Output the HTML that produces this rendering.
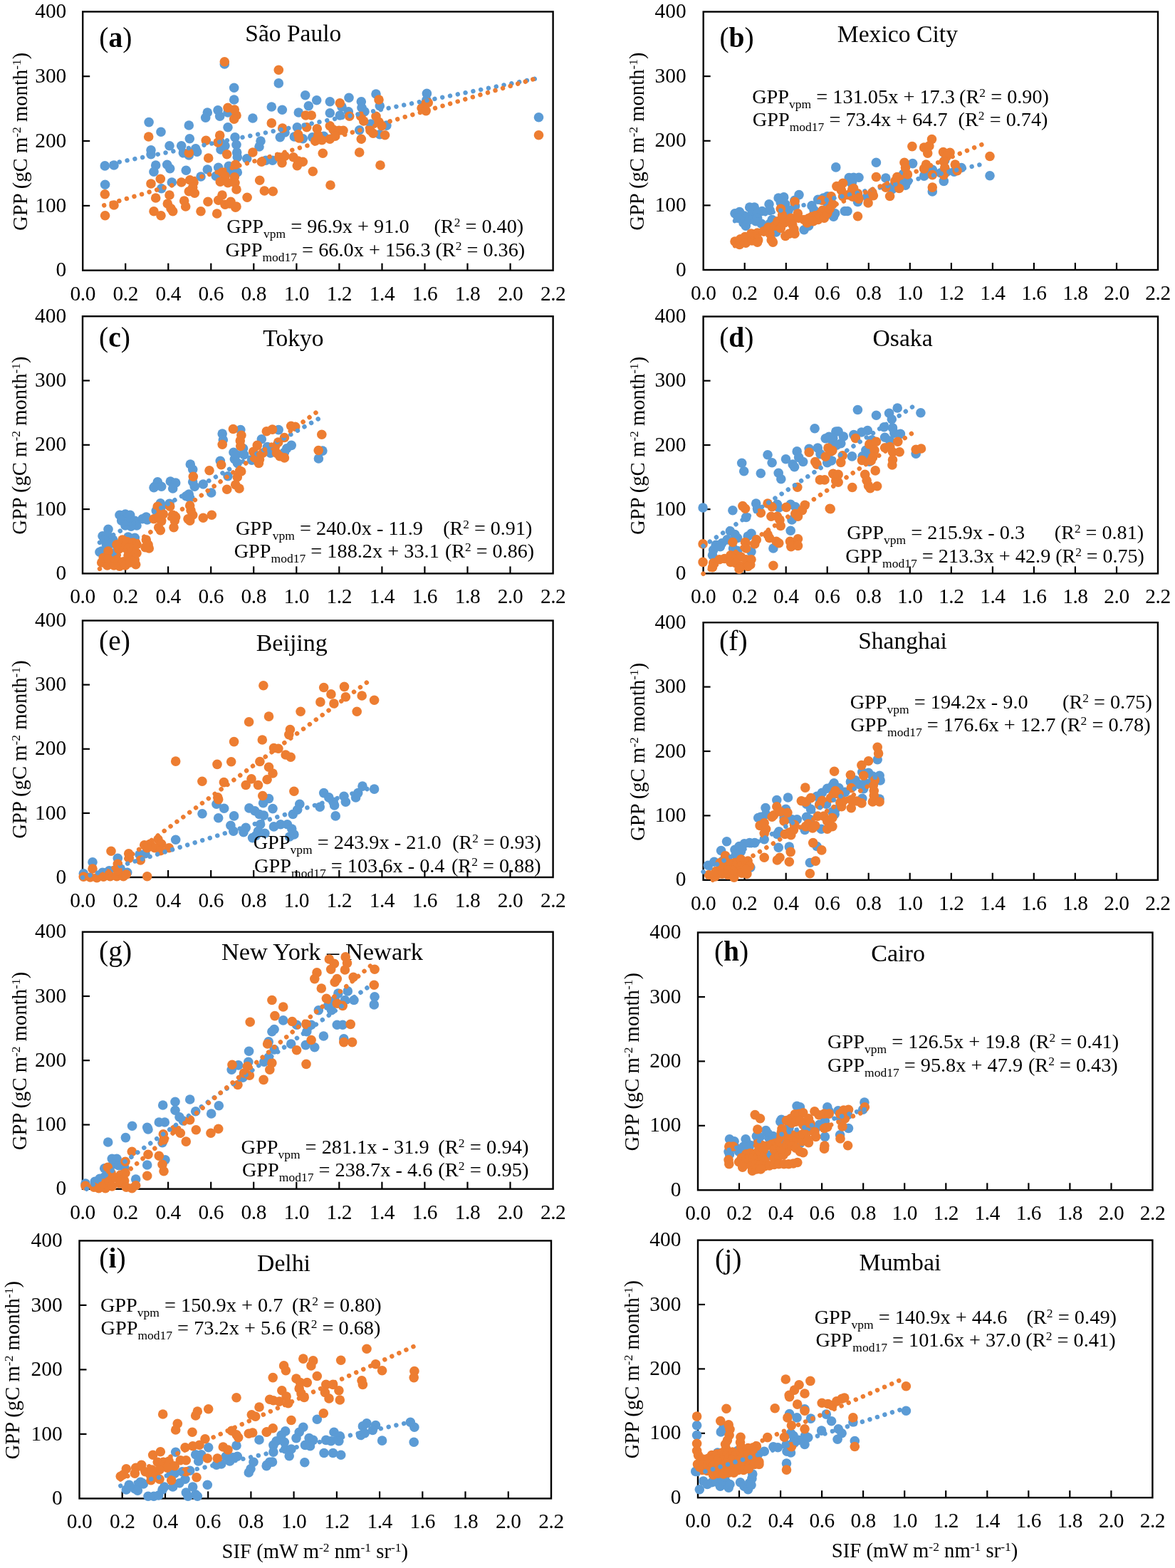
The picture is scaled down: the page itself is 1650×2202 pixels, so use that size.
<!DOCTYPE html><html><head><meta charset="utf-8"><title>GPP vs SIF</title>
<style>html,body{margin:0;padding:0;background:#fff}svg{display:block}text{font-family:"Liberation Serif",serif;fill:#000}.t{font-size:29.4px}.at{font-size:28.7px}.ti{font-size:34px}.lb{font-size:39.5px}.eq{font-size:28.3px}.ax{stroke:#000;stroke-width:2.4;fill:none}.tk{stroke:#000;stroke-width:2.2}.b{fill:#5B9BD5}.o{fill:#ED7D31}.tb{stroke:#5B9BD5;stroke-width:6.5;stroke-linecap:round;stroke-dasharray:0.01 11;fill:none}.to{stroke:#ED7D31;stroke-width:6.5;stroke-linecap:round;stroke-dasharray:0.01 11;fill:none}</style></head><body>
<svg width="1650" height="2202" viewBox="0 0 1650 2202">
<rect width="1650" height="2202" fill="#fff"/>
<g id="pa">
<text class="t" text-anchor="end" x="93.3" y="388.3">0</text>
<text class="t" text-anchor="end" x="93.3" y="297.5">100</text>
<line class="tk" x1="116.2" y1="288.9" x2="126.2" y2="288.9"/>
<text class="t" text-anchor="end" x="93.3" y="206.6">200</text>
<line class="tk" x1="116.2" y1="198" x2="126.2" y2="198"/>
<text class="t" text-anchor="end" x="93.3" y="115.8">300</text>
<line class="tk" x1="116.2" y1="107.2" x2="126.2" y2="107.2"/>
<text class="t" text-anchor="end" x="93.3" y="25">400</text>
<text class="t" letter-spacing="-0.45" text-anchor="middle" x="116.2" y="421.5">0.0</text>
<text class="t" letter-spacing="-0.45" text-anchor="middle" x="176.2" y="421.5">0.2</text>
<line class="tk" x1="176.2" y1="379.7" x2="176.2" y2="369.7"/>
<text class="t" letter-spacing="-0.45" text-anchor="middle" x="236.3" y="421.5">0.4</text>
<line class="tk" x1="236.3" y1="379.7" x2="236.3" y2="369.7"/>
<text class="t" letter-spacing="-0.45" text-anchor="middle" x="296.3" y="421.5">0.6</text>
<line class="tk" x1="296.3" y1="379.7" x2="296.3" y2="369.7"/>
<text class="t" letter-spacing="-0.45" text-anchor="middle" x="356.3" y="421.5">0.8</text>
<line class="tk" x1="356.3" y1="379.7" x2="356.3" y2="369.7"/>
<text class="t" letter-spacing="-0.45" text-anchor="middle" x="416.4" y="421.5">1.0</text>
<line class="tk" x1="416.4" y1="379.7" x2="416.4" y2="369.7"/>
<text class="t" letter-spacing="-0.45" text-anchor="middle" x="476.4" y="421.5">1.2</text>
<line class="tk" x1="476.4" y1="379.7" x2="476.4" y2="369.7"/>
<text class="t" letter-spacing="-0.45" text-anchor="middle" x="536.5" y="421.5">1.4</text>
<line class="tk" x1="536.5" y1="379.7" x2="536.5" y2="369.7"/>
<text class="t" letter-spacing="-0.45" text-anchor="middle" x="596.5" y="421.5">1.6</text>
<line class="tk" x1="596.5" y1="379.7" x2="596.5" y2="369.7"/>
<text class="t" letter-spacing="-0.45" text-anchor="middle" x="656.5" y="421.5">1.8</text>
<line class="tk" x1="656.5" y1="379.7" x2="656.5" y2="369.7"/>
<text class="t" letter-spacing="-0.45" text-anchor="middle" x="716.6" y="421.5">2.0</text>
<line class="tk" x1="716.6" y1="379.7" x2="716.6" y2="369.7"/>
<text class="t" letter-spacing="-0.45" text-anchor="middle" x="776.6" y="421.5">2.2</text>
<rect class="ax" x="116.2" y="16.4" width="660.4" height="363.3"/>
<text class="at" text-anchor="middle" transform="translate(38.2 198.8) rotate(-90)">GPP (gC m<tspan dy="-9" font-size="17.5">-2</tspan><tspan dy="9"> month</tspan><tspan dy="-9" font-size="17.5">-1</tspan><tspan dy="9">)</tspan></text>
<text class="lb" x="139.3" y="65.8">(<tspan font-weight="bold">a</tspan>)</text>
<g class="b"><circle cx="147.3" cy="232.9" r="6.8"/><circle cx="160" cy="232" r="6.8"/><circle cx="147.6" cy="259.3" r="6.8"/><circle cx="209.1" cy="171.6" r="6.8"/><circle cx="226" cy="185.3" r="6.8"/><circle cx="265.3" cy="176" r="6.8"/><circle cx="266.3" cy="194.7" r="6.8"/><circle cx="212" cy="210.7" r="6.8"/><circle cx="212" cy="216.7" r="6.8"/><circle cx="238" cy="204.7" r="6.8"/><circle cx="291.3" cy="158" r="6.8"/><circle cx="288.7" cy="165.3" r="6.8"/><circle cx="306" cy="154.7" r="6.8"/><circle cx="308.7" cy="163.3" r="6.8"/><circle cx="320" cy="158" r="6.8"/><circle cx="320" cy="178.7" r="6.8"/><circle cx="328.7" cy="123.3" r="6.8"/><circle cx="328.7" cy="140" r="6.8"/><circle cx="330" cy="192.7" r="6.8"/><circle cx="332" cy="203.3" r="6.8"/><circle cx="332.7" cy="214" r="6.8"/><circle cx="333.3" cy="220.7" r="6.8"/><circle cx="309.3" cy="199.3" r="6.8"/><circle cx="310" cy="210" r="6.8"/><circle cx="316" cy="204.7" r="6.8"/><circle cx="254.7" cy="204.7" r="6.8"/><circle cx="257.3" cy="214.7" r="6.8"/><circle cx="265.3" cy="218" r="6.8"/><circle cx="274.7" cy="208.7" r="6.8"/><circle cx="276.7" cy="213.3" r="6.8"/><circle cx="218.7" cy="232" r="6.8"/><circle cx="216" cy="241.3" r="6.8"/><circle cx="234.7" cy="231.3" r="6.8"/><circle cx="238.7" cy="236.7" r="6.8"/><circle cx="261.3" cy="239.3" r="6.8"/><circle cx="291.3" cy="238" r="6.8"/><circle cx="282" cy="248" r="6.8"/><circle cx="306.7" cy="235.3" r="6.8"/><circle cx="303.3" cy="247.3" r="6.8"/><circle cx="321.3" cy="233.3" r="6.8"/><circle cx="320" cy="242" r="6.8"/><circle cx="332" cy="242" r="6.8"/><circle cx="241.3" cy="256" r="6.8"/><circle cx="226.7" cy="264.7" r="6.8"/><circle cx="315.3" cy="90" r="6.8"/><circle cx="354.9" cy="166" r="6.8"/><circle cx="381.3" cy="150" r="6.8"/><circle cx="396.3" cy="154.3" r="6.8"/><circle cx="391.3" cy="116.9" r="6.8"/><circle cx="428.7" cy="133.7" r="6.8"/><circle cx="444.7" cy="140.7" r="6.8"/><circle cx="433.3" cy="148.7" r="6.8"/><circle cx="419.3" cy="158" r="6.8"/><circle cx="463.3" cy="142.7" r="6.8"/><circle cx="490" cy="137.3" r="6.8"/><circle cx="507.3" cy="142.7" r="6.8"/><circle cx="508" cy="151.3" r="6.8"/><circle cx="528" cy="132" r="6.8"/><circle cx="533.3" cy="148.7" r="6.8"/><circle cx="463.3" cy="158.7" r="6.8"/><circle cx="477.3" cy="162" r="6.8"/><circle cx="489.3" cy="156.7" r="6.8"/><circle cx="480" cy="150" r="6.8"/><circle cx="512" cy="156.7" r="6.8"/><circle cx="366" cy="198" r="6.8"/><circle cx="364" cy="206" r="6.8"/><circle cx="346.7" cy="222.7" r="6.8"/><circle cx="373.3" cy="225.3" r="6.8"/><circle cx="382.7" cy="225.3" r="6.8"/><circle cx="393.3" cy="192.7" r="6.8"/><circle cx="400" cy="186" r="6.8"/><circle cx="413.3" cy="192" r="6.8"/><circle cx="417.3" cy="178.7" r="6.8"/><circle cx="425.3" cy="194.7" r="6.8"/><circle cx="438.7" cy="192.7" r="6.8"/><circle cx="454.7" cy="191.3" r="6.8"/><circle cx="470.7" cy="186" r="6.8"/><circle cx="504.7" cy="182.7" r="6.8"/><circle cx="520.7" cy="174" r="6.8"/><circle cx="533.3" cy="188.7" r="6.8"/><circle cx="333.3" cy="242" r="6.8"/><circle cx="599.4" cy="131.4" r="6.8"/><circle cx="598.9" cy="140.5" r="6.8"/><circle cx="756.5" cy="164.7" r="6.8"/><circle cx="542.9" cy="176.1" r="6.8"/></g><g class="o"><circle cx="315.3" cy="86.7" r="6.8"/><circle cx="208.7" cy="192" r="6.8"/><circle cx="289.3" cy="197.3" r="6.8"/><circle cx="308.7" cy="190" r="6.8"/><circle cx="306" cy="200" r="6.8"/><circle cx="265.3" cy="214.7" r="6.8"/><circle cx="292.7" cy="222" r="6.8"/><circle cx="318.7" cy="216.7" r="6.8"/><circle cx="320" cy="151.3" r="6.8"/><circle cx="329.3" cy="154" r="6.8"/><circle cx="332" cy="162" r="6.8"/><circle cx="328.7" cy="167.3" r="6.8"/><circle cx="330.7" cy="231.3" r="6.8"/><circle cx="329.3" cy="248.7" r="6.8"/><circle cx="312" cy="242" r="6.8"/><circle cx="316" cy="247.3" r="6.8"/><circle cx="309.3" cy="255.3" r="6.8"/><circle cx="320" cy="256.7" r="6.8"/><circle cx="330" cy="256.7" r="6.8"/><circle cx="332" cy="266" r="6.8"/><circle cx="225.3" cy="251.3" r="6.8"/><circle cx="212" cy="258" r="6.8"/><circle cx="254.7" cy="256" r="6.8"/><circle cx="266.7" cy="252.7" r="6.8"/><circle cx="272" cy="256" r="6.8"/><circle cx="270.7" cy="263.3" r="6.8"/><circle cx="265.3" cy="268.7" r="6.8"/><circle cx="273.3" cy="271.3" r="6.8"/><circle cx="238" cy="274" r="6.8"/><circle cx="218.7" cy="278" r="6.8"/><circle cx="235.3" cy="286" r="6.8"/><circle cx="240" cy="292.7" r="6.8"/><circle cx="242.7" cy="296.7" r="6.8"/><circle cx="258.7" cy="282" r="6.8"/><circle cx="260.7" cy="290" r="6.8"/><circle cx="292" cy="283.3" r="6.8"/><circle cx="312" cy="274" r="6.8"/><circle cx="306.7" cy="281.3" r="6.8"/><circle cx="316" cy="287.3" r="6.8"/><circle cx="322.7" cy="286" r="6.8"/><circle cx="330.7" cy="291.3" r="6.8"/><circle cx="282" cy="296.7" r="6.8"/><circle cx="216" cy="296.7" r="6.8"/><circle cx="226" cy="302.7" r="6.8"/><circle cx="304.7" cy="300" r="6.8"/><circle cx="147.3" cy="272.7" r="6.8"/><circle cx="160" cy="288" r="6.8"/><circle cx="147.6" cy="302.7" r="6.8"/><circle cx="391.3" cy="98.3" r="6.8"/><circle cx="477.3" cy="144.7" r="6.8"/><circle cx="532" cy="140" r="6.8"/><circle cx="429.3" cy="162" r="6.8"/><circle cx="437.3" cy="162" r="6.8"/><circle cx="381.3" cy="172.9" r="6.8"/><circle cx="396.7" cy="180" r="6.8"/><circle cx="430.7" cy="178.7" r="6.8"/><circle cx="418.7" cy="188.7" r="6.8"/><circle cx="420" cy="194" r="6.8"/><circle cx="445.3" cy="180.7" r="6.8"/><circle cx="446.7" cy="190" r="6.8"/><circle cx="442.7" cy="198" r="6.8"/><circle cx="452" cy="196.7" r="6.8"/><circle cx="463.3" cy="176.7" r="6.8"/><circle cx="468" cy="182" r="6.8"/><circle cx="476" cy="183.3" r="6.8"/><circle cx="482" cy="183.3" r="6.8"/><circle cx="463.3" cy="195.3" r="6.8"/><circle cx="470.7" cy="191.3" r="6.8"/><circle cx="490.7" cy="163.3" r="6.8"/><circle cx="506.7" cy="163.3" r="6.8"/><circle cx="510.7" cy="170" r="6.8"/><circle cx="528" cy="163.3" r="6.8"/><circle cx="532" cy="171.3" r="6.8"/><circle cx="536" cy="176.7" r="6.8"/><circle cx="520" cy="183.3" r="6.8"/><circle cx="524" cy="187.3" r="6.8"/><circle cx="507.3" cy="195.3" r="6.8"/><circle cx="504.7" cy="214" r="6.8"/><circle cx="453.3" cy="215.3" r="6.8"/><circle cx="534" cy="232" r="6.8"/><circle cx="439.3" cy="240.7" r="6.8"/><circle cx="464" cy="260" r="6.8"/><circle cx="364.7" cy="253.3" r="6.8"/><circle cx="371.3" cy="268" r="6.8"/><circle cx="383.3" cy="268.7" r="6.8"/><circle cx="347.1" cy="277.3" r="6.8"/><circle cx="354.9" cy="214" r="6.8"/><circle cx="367.3" cy="227.3" r="6.8"/><circle cx="392" cy="220.7" r="6.8"/><circle cx="400" cy="219.3" r="6.8"/><circle cx="396" cy="228.7" r="6.8"/><circle cx="412" cy="220.7" r="6.8"/><circle cx="418.7" cy="226" r="6.8"/><circle cx="425.3" cy="227.3" r="6.8"/><circle cx="417.3" cy="232.7" r="6.8"/><circle cx="324" cy="283.3" r="6.8"/><circle cx="332" cy="290" r="6.8"/><circle cx="596.7" cy="146.5" r="6.8"/><circle cx="592.1" cy="151.8" r="6.8"/><circle cx="601.2" cy="144.2" r="6.8"/><circle cx="598.2" cy="155.6" r="6.8"/><circle cx="756.5" cy="189.7" r="6.8"/><circle cx="540.6" cy="189.7" r="6.8"/></g><line class="tb" x1="146.2" y1="231.8" x2="756.8" y2="109.6"/><line class="to" x1="146.2" y1="288.3" x2="756.8" y2="109"/>
<text class="ti" x="344.3" y="58.2" textLength="134.9" lengthAdjust="spacingAndGlyphs">São Paulo</text>
<text class="eq" x="318.2" y="327" xml:space="preserve">GPP<tspan dy="7" font-size="17.5">vpm</tspan><tspan dy="-7"> = 96.9x + 91.0</tspan></text><text class="eq" x="609.4" y="327" textLength="125.9" lengthAdjust="spacingAndGlyphs">(R<tspan dy="-9" font-size="17.5">2</tspan><tspan dy="9"> = 0.40)</tspan></text><text class="eq" x="316.5" y="359.8" xml:space="preserve">GPP<tspan dy="7" font-size="17.5">mod17</tspan><tspan dy="-7"> = 66.0x + 156.3</tspan></text><text class="eq" x="611.4" y="359.8" textLength="125.9" lengthAdjust="spacingAndGlyphs">(R<tspan dy="-9" font-size="17.5">2</tspan><tspan dy="9"> = 0.36)</tspan></text>
</g>
<g id="pb">
<text class="t" text-anchor="end" x="963.6" y="387.6">0</text>
<text class="t" text-anchor="end" x="963.6" y="297">100</text>
<line class="tk" x1="987.7" y1="288.4" x2="997.7" y2="288.4"/>
<text class="t" text-anchor="end" x="963.6" y="206.3">200</text>
<line class="tk" x1="987.7" y1="197.8" x2="997.7" y2="197.8"/>
<text class="t" text-anchor="end" x="963.6" y="115.7">300</text>
<line class="tk" x1="987.7" y1="107.1" x2="997.7" y2="107.1"/>
<text class="t" text-anchor="end" x="963.6" y="25.1">400</text>
<text class="t" letter-spacing="-0.45" text-anchor="middle" x="987.7" y="420.8">0.0</text>
<text class="t" letter-spacing="-0.45" text-anchor="middle" x="1045.7" y="420.8">0.2</text>
<line class="tk" x1="1045.7" y1="379" x2="1045.7" y2="369"/>
<text class="t" letter-spacing="-0.45" text-anchor="middle" x="1103.8" y="420.8">0.4</text>
<line class="tk" x1="1103.8" y1="379" x2="1103.8" y2="369"/>
<text class="t" letter-spacing="-0.45" text-anchor="middle" x="1161.8" y="420.8">0.6</text>
<line class="tk" x1="1161.8" y1="379" x2="1161.8" y2="369"/>
<text class="t" letter-spacing="-0.45" text-anchor="middle" x="1219.8" y="420.8">0.8</text>
<line class="tk" x1="1219.8" y1="379" x2="1219.8" y2="369"/>
<text class="t" letter-spacing="-0.45" text-anchor="middle" x="1277.8" y="420.8">1.0</text>
<line class="tk" x1="1277.8" y1="379" x2="1277.8" y2="369"/>
<text class="t" letter-spacing="-0.45" text-anchor="middle" x="1335.9" y="420.8">1.2</text>
<line class="tk" x1="1335.9" y1="379" x2="1335.9" y2="369"/>
<text class="t" letter-spacing="-0.45" text-anchor="middle" x="1393.9" y="420.8">1.4</text>
<line class="tk" x1="1393.9" y1="379" x2="1393.9" y2="369"/>
<text class="t" letter-spacing="-0.45" text-anchor="middle" x="1451.9" y="420.8">1.6</text>
<line class="tk" x1="1451.9" y1="379" x2="1451.9" y2="369"/>
<text class="t" letter-spacing="-0.45" text-anchor="middle" x="1509.9" y="420.8">1.8</text>
<line class="tk" x1="1509.9" y1="379" x2="1509.9" y2="369"/>
<text class="t" letter-spacing="-0.45" text-anchor="middle" x="1568" y="420.8">2.0</text>
<line class="tk" x1="1568" y1="379" x2="1568" y2="369"/>
<text class="t" letter-spacing="-0.45" text-anchor="middle" x="1626" y="420.8">2.2</text>
<rect class="ax" x="987.7" y="16.5" width="638.3" height="362.5"/>
<text class="at" text-anchor="middle" transform="translate(904.1 198.6) rotate(-90)">GPP (gC m<tspan dy="-9" font-size="17.5">-2</tspan><tspan dy="9"> month</tspan><tspan dy="-9" font-size="17.5">-1</tspan><tspan dy="9">)</tspan></text>
<text class="lb" x="1010.4" y="65.8">(<tspan font-weight="bold">b</tspan>)</text>
<g class="b"><circle cx="1045.1" cy="303.1" r="6.8"/><circle cx="1070.2" cy="296.5" r="6.8"/><circle cx="1032" cy="299.8" r="6.8"/><circle cx="1038.5" cy="297.6" r="6.8"/><circle cx="1036.4" cy="306.3" r="6.8"/><circle cx="1044" cy="312.9" r="6.8"/><circle cx="1047.3" cy="317.2" r="6.8"/><circle cx="1052.7" cy="291.1" r="6.8"/><circle cx="1059.3" cy="291.1" r="6.8"/><circle cx="1056" cy="299.8" r="6.8"/><circle cx="1063.6" cy="299.8" r="6.8"/><circle cx="1052.7" cy="308.5" r="6.8"/><circle cx="1061.4" cy="310.7" r="6.8"/><circle cx="1069.1" cy="314" r="6.8"/><circle cx="1063.6" cy="306.3" r="6.8"/><circle cx="1080" cy="286.7" r="6.8"/><circle cx="1081.1" cy="295.4" r="6.8"/><circle cx="1084.3" cy="308.5" r="6.8"/><circle cx="1081.1" cy="314" r="6.8"/><circle cx="1093.1" cy="278" r="6.8"/><circle cx="1100.7" cy="276.9" r="6.8"/><circle cx="1096.3" cy="284.5" r="6.8"/><circle cx="1102.9" cy="286.7" r="6.8"/><circle cx="1122" cy="273.6" r="6.8"/><circle cx="1116" cy="281.3" r="6.8"/><circle cx="1116.5" cy="289.4" r="6.8"/><circle cx="1107.2" cy="295.4" r="6.8"/><circle cx="1105.1" cy="304.2" r="6.8"/><circle cx="1089.8" cy="326" r="6.8"/><circle cx="1129.1" cy="322.7" r="6.8"/><circle cx="1135.6" cy="317.2" r="6.8"/><circle cx="1140" cy="288.9" r="6.8"/><circle cx="1143.2" cy="295.4" r="6.8"/><circle cx="1148.7" cy="280.2" r="6.8"/><circle cx="1156.3" cy="278" r="6.8"/><circle cx="1161.8" cy="275.8" r="6.8"/><circle cx="1160.7" cy="283.4" r="6.8"/><circle cx="1172.7" cy="299.8" r="6.8"/><circle cx="1170.5" cy="304.2" r="6.8"/><circle cx="1186.3" cy="296.5" r="6.8"/><circle cx="1173.8" cy="234.9" r="6.8"/><circle cx="1192.3" cy="249.6" r="6.8"/><circle cx="1196.7" cy="255.1" r="6.8"/><circle cx="1230.4" cy="228.2" r="6.8"/><circle cx="1198.7" cy="249.3" r="6.8"/><circle cx="1206" cy="249.3" r="6.8"/><circle cx="1195.8" cy="257.3" r="6.8"/><circle cx="1243.8" cy="250" r="6.8"/><circle cx="1204.5" cy="283.5" r="6.8"/><circle cx="1217.6" cy="276.2" r="6.8"/><circle cx="1190" cy="296.5" r="6.8"/><circle cx="1281.6" cy="229.6" r="6.8"/><circle cx="1268.5" cy="244.2" r="6.8"/><circle cx="1274.4" cy="254.4" r="6.8"/><circle cx="1271.5" cy="260.2" r="6.8"/><circle cx="1265.6" cy="257.3" r="6.8"/><circle cx="1255.5" cy="260.2" r="6.8"/><circle cx="1252.5" cy="266" r="6.8"/><circle cx="1297.6" cy="247.1" r="6.8"/><circle cx="1302" cy="242.7" r="6.8"/><circle cx="1309.3" cy="238.4" r="6.8"/><circle cx="1325.3" cy="254.4" r="6.8"/><circle cx="1320.9" cy="242.7" r="6.8"/><circle cx="1329.6" cy="241.3" r="6.8"/><circle cx="1339.8" cy="241.3" r="6.8"/><circle cx="1350" cy="235.5" r="6.8"/><circle cx="1326.7" cy="225.3" r="6.8"/><circle cx="1390" cy="246.8" r="6.8"/><circle cx="1309.3" cy="268.9" r="6.8"/></g><g class="o"><circle cx="1032" cy="339.1" r="6.8"/><circle cx="1038.5" cy="343.4" r="6.8"/><circle cx="1039.6" cy="335.8" r="6.8"/><circle cx="1046.2" cy="332.5" r="6.8"/><circle cx="1047.3" cy="341.2" r="6.8"/><circle cx="1054.9" cy="328.1" r="6.8"/><circle cx="1056" cy="338" r="6.8"/><circle cx="1063.6" cy="327.1" r="6.8"/><circle cx="1064.7" cy="336.9" r="6.8"/><circle cx="1063.6" cy="340.1" r="6.8"/><circle cx="1072.3" cy="324.9" r="6.8"/><circle cx="1078.9" cy="319.4" r="6.8"/><circle cx="1081.1" cy="328.1" r="6.8"/><circle cx="1083.2" cy="336.9" r="6.8"/><circle cx="1085.4" cy="340.1" r="6.8"/><circle cx="1087.6" cy="317.2" r="6.8"/><circle cx="1092" cy="310.7" r="6.8"/><circle cx="1096.3" cy="293.2" r="6.8"/><circle cx="1098.5" cy="302" r="6.8"/><circle cx="1100.7" cy="312.9" r="6.8"/><circle cx="1096.3" cy="320.5" r="6.8"/><circle cx="1102.9" cy="331.4" r="6.8"/><circle cx="1108.3" cy="328.1" r="6.8"/><circle cx="1110.5" cy="306.3" r="6.8"/><circle cx="1112.7" cy="315.1" r="6.8"/><circle cx="1114.9" cy="321.6" r="6.8"/><circle cx="1116" cy="328.1" r="6.8"/><circle cx="1116" cy="283.4" r="6.8"/><circle cx="1120.3" cy="299.8" r="6.8"/><circle cx="1121.4" cy="306.3" r="6.8"/><circle cx="1129.1" cy="308.5" r="6.8"/><circle cx="1133.4" cy="312.9" r="6.8"/><circle cx="1140" cy="304.2" r="6.8"/><circle cx="1142.1" cy="310.7" r="6.8"/><circle cx="1148.7" cy="308.5" r="6.8"/><circle cx="1150.9" cy="300.9" r="6.8"/><circle cx="1155.2" cy="295.4" r="6.8"/><circle cx="1157.4" cy="306.3" r="6.8"/><circle cx="1161.8" cy="299.8" r="6.8"/><circle cx="1165" cy="293.2" r="6.8"/><circle cx="1169.4" cy="286.7" r="6.8"/><circle cx="1154.1" cy="281.3" r="6.8"/><circle cx="1167.2" cy="275.8" r="6.8"/><circle cx="1174.9" cy="261.6" r="6.8"/><circle cx="1183.6" cy="257.3" r="6.8"/><circle cx="1181.4" cy="267.1" r="6.8"/><circle cx="1183.6" cy="275.8" r="6.8"/><circle cx="1191.2" cy="273.6" r="6.8"/><circle cx="1196.7" cy="266" r="6.8"/><circle cx="1198.8" cy="273.6" r="6.8"/><circle cx="1308.5" cy="195.5" r="6.8"/><circle cx="1280.9" cy="205.6" r="6.8"/><circle cx="1297.6" cy="207.1" r="6.8"/><circle cx="1304.9" cy="204.9" r="6.8"/><circle cx="1302.7" cy="215.1" r="6.8"/><circle cx="1324.5" cy="213.6" r="6.8"/><circle cx="1334" cy="214.4" r="6.8"/><circle cx="1329.6" cy="219.5" r="6.8"/><circle cx="1270" cy="228.2" r="6.8"/><circle cx="1271.5" cy="235.5" r="6.8"/><circle cx="1300.5" cy="231.1" r="6.8"/><circle cx="1297.6" cy="236.9" r="6.8"/><circle cx="1325.3" cy="226.7" r="6.8"/><circle cx="1326.7" cy="235.5" r="6.8"/><circle cx="1341.3" cy="231.1" r="6.8"/><circle cx="1344.2" cy="239.8" r="6.8"/><circle cx="1325.3" cy="245.6" r="6.8"/><circle cx="1390" cy="219.5" r="6.8"/><circle cx="1230.4" cy="248.5" r="6.8"/><circle cx="1259.8" cy="248.5" r="6.8"/><circle cx="1256.9" cy="254.4" r="6.8"/><circle cx="1274.4" cy="244.9" r="6.8"/><circle cx="1262.7" cy="264.5" r="6.8"/><circle cx="1243.8" cy="263.1" r="6.8"/><circle cx="1249.6" cy="275.5" r="6.8"/><circle cx="1309.3" cy="263.1" r="6.8"/><circle cx="1309.3" cy="245.6" r="6.8"/><circle cx="1224.9" cy="270.4" r="6.8"/><circle cx="1219.1" cy="284.9" r="6.8"/><circle cx="1226.4" cy="274.7" r="6.8"/><circle cx="1198.7" cy="264.5" r="6.8"/><circle cx="1204.5" cy="271.8" r="6.8"/><circle cx="1197.3" cy="276.2" r="6.8"/><circle cx="1206" cy="279.1" r="6.8"/><circle cx="1204.5" cy="303.8" r="6.8"/></g><line class="tb" x1="1032" y1="310.2" x2="1384.7" y2="229.3"/><line class="to" x1="1032" y1="345.2" x2="1385.9" y2="200.1"/>
<text class="ti" x="1175.7" y="58.8" textLength="169.3" lengthAdjust="spacingAndGlyphs">Mexico City</text>
<text class="eq" x="1056.2" y="144.8" xml:space="preserve">GPP<tspan dy="7" font-size="17.5">vpm</tspan><tspan dy="-7"> = 131.05x + 17.3</tspan></text><text class="eq" x="1347.1" y="144.8" textLength="125.9" lengthAdjust="spacingAndGlyphs">(R<tspan dy="-9" font-size="17.5">2</tspan><tspan dy="9"> = 0.90)</tspan></text><text class="eq" x="1056.8" y="176.5" xml:space="preserve">GPP<tspan dy="7" font-size="17.5">mod17</tspan><tspan dy="-7"> = 73.4x + 64.7</tspan></text><text class="eq" x="1345.6" y="176.5" textLength="125.9" lengthAdjust="spacingAndGlyphs">(R<tspan dy="-9" font-size="17.5">2</tspan><tspan dy="9"> = 0.74)</tspan></text>
</g>
<g id="pc">
<text class="t" text-anchor="end" x="93.1" y="814">0</text>
<text class="t" text-anchor="end" x="93.1" y="723.7">100</text>
<line class="tk" x1="116" y1="715.1" x2="126" y2="715.1"/>
<text class="t" text-anchor="end" x="93.1" y="633.4">200</text>
<line class="tk" x1="116" y1="624.8" x2="126" y2="624.8"/>
<text class="t" text-anchor="end" x="93.1" y="543.1">300</text>
<line class="tk" x1="116" y1="534.5" x2="126" y2="534.5"/>
<text class="t" text-anchor="end" x="93.1" y="452.8">400</text>
<text class="t" letter-spacing="-0.45" text-anchor="middle" x="116" y="847.2">0.0</text>
<text class="t" letter-spacing="-0.45" text-anchor="middle" x="176.1" y="847.2">0.2</text>
<line class="tk" x1="176.1" y1="805.4" x2="176.1" y2="795.4"/>
<text class="t" letter-spacing="-0.45" text-anchor="middle" x="236.1" y="847.2">0.4</text>
<line class="tk" x1="236.1" y1="805.4" x2="236.1" y2="795.4"/>
<text class="t" letter-spacing="-0.45" text-anchor="middle" x="296.2" y="847.2">0.6</text>
<line class="tk" x1="296.2" y1="805.4" x2="296.2" y2="795.4"/>
<text class="t" letter-spacing="-0.45" text-anchor="middle" x="356.2" y="847.2">0.8</text>
<line class="tk" x1="356.2" y1="805.4" x2="356.2" y2="795.4"/>
<text class="t" letter-spacing="-0.45" text-anchor="middle" x="416.3" y="847.2">1.0</text>
<line class="tk" x1="416.3" y1="805.4" x2="416.3" y2="795.4"/>
<text class="t" letter-spacing="-0.45" text-anchor="middle" x="476.3" y="847.2">1.2</text>
<line class="tk" x1="476.3" y1="805.4" x2="476.3" y2="795.4"/>
<text class="t" letter-spacing="-0.45" text-anchor="middle" x="536.4" y="847.2">1.4</text>
<line class="tk" x1="536.4" y1="805.4" x2="536.4" y2="795.4"/>
<text class="t" letter-spacing="-0.45" text-anchor="middle" x="596.4" y="847.2">1.6</text>
<line class="tk" x1="596.4" y1="805.4" x2="596.4" y2="795.4"/>
<text class="t" letter-spacing="-0.45" text-anchor="middle" x="656.5" y="847.2">1.8</text>
<line class="tk" x1="656.5" y1="805.4" x2="656.5" y2="795.4"/>
<text class="t" letter-spacing="-0.45" text-anchor="middle" x="716.5" y="847.2">2.0</text>
<line class="tk" x1="716.5" y1="805.4" x2="716.5" y2="795.4"/>
<text class="t" letter-spacing="-0.45" text-anchor="middle" x="776.6" y="847.2">2.2</text>
<rect class="ax" x="116" y="444.2" width="660.6" height="361.2"/>
<text class="at" text-anchor="middle" transform="translate(37.1 625.6) rotate(-90)">GPP (gC m<tspan dy="-9" font-size="17.5">-2</tspan><tspan dy="9"> month</tspan><tspan dy="-9" font-size="17.5">-1</tspan><tspan dy="9">)</tspan></text>
<text class="lb" x="139.1" y="486.5">(<tspan font-weight="bold">c</tspan>)</text>
<g class="b"><circle cx="158.7" cy="758" r="6.8"/><circle cx="160" cy="763.3" r="6.8"/><circle cx="144" cy="752.7" r="6.8"/><circle cx="153.3" cy="756.7" r="6.8"/><circle cx="152" cy="743.3" r="6.8"/><circle cx="150.7" cy="751.3" r="6.8"/><circle cx="146.7" cy="758" r="6.8"/><circle cx="149.3" cy="764.7" r="6.8"/><circle cx="154.7" cy="763.3" r="6.8"/><circle cx="142.7" cy="774" r="6.8"/><circle cx="140" cy="775.3" r="6.8"/><circle cx="168" cy="723.3" r="6.8"/><circle cx="176" cy="722" r="6.8"/><circle cx="182.7" cy="723.3" r="6.8"/><circle cx="170.7" cy="731.3" r="6.8"/><circle cx="180" cy="734" r="6.8"/><circle cx="189.3" cy="731.3" r="6.8"/><circle cx="192" cy="738" r="6.8"/><circle cx="184" cy="739.3" r="6.8"/><circle cx="176" cy="738" r="6.8"/><circle cx="205.3" cy="726" r="6.8"/><circle cx="200" cy="728.7" r="6.8"/><circle cx="206.7" cy="730" r="6.8"/><circle cx="221.3" cy="676.7" r="6.8"/><circle cx="217.3" cy="683.3" r="6.8"/><circle cx="226.7" cy="683.3" r="6.8"/><circle cx="239.3" cy="676" r="6.8"/><circle cx="246.7" cy="678" r="6.8"/><circle cx="242.7" cy="686" r="6.8"/><circle cx="216" cy="684.7" r="6.8"/><circle cx="225.3" cy="706.7" r="6.8"/><circle cx="226.7" cy="711.3" r="6.8"/><circle cx="219.3" cy="717.3" r="6.8"/><circle cx="238" cy="707.3" r="6.8"/><circle cx="265.3" cy="694" r="6.8"/><circle cx="261.3" cy="696.7" r="6.8"/><circle cx="266.7" cy="699.3" r="6.8"/><circle cx="267.3" cy="652" r="6.8"/><circle cx="270.7" cy="659.3" r="6.8"/><circle cx="270.7" cy="676.7" r="6.8"/><circle cx="273.3" cy="683.3" r="6.8"/><circle cx="285.3" cy="680" r="6.8"/><circle cx="296.7" cy="692" r="6.8"/><circle cx="309.3" cy="647.3" r="6.8"/><circle cx="328" cy="635.3" r="6.8"/><circle cx="329.3" cy="644.7" r="6.8"/><circle cx="333.3" cy="650" r="6.8"/><circle cx="320" cy="668.7" r="6.8"/><circle cx="180" cy="754" r="6.8"/><circle cx="189.3" cy="755.3" r="6.8"/><circle cx="160" cy="776.7" r="6.8"/><circle cx="181.3" cy="776.7" r="6.8"/><circle cx="312.2" cy="609.1" r="6.8"/><circle cx="313.3" cy="617.8" r="6.8"/><circle cx="337.8" cy="603.6" r="6.8"/><circle cx="341.6" cy="629.8" r="6.8"/><circle cx="342.7" cy="638.5" r="6.8"/><circle cx="367.3" cy="616.7" r="6.8"/><circle cx="391.2" cy="603.6" r="6.8"/><circle cx="375.4" cy="627.6" r="6.8"/><circle cx="379.8" cy="636.3" r="6.8"/><circle cx="409.2" cy="625.4" r="6.8"/><circle cx="402.7" cy="629.8" r="6.8"/><circle cx="399.4" cy="635.2" r="6.8"/><circle cx="353.6" cy="646.2" r="6.8"/><circle cx="452.9" cy="633.1" r="6.8"/><circle cx="447.4" cy="644" r="6.8"/><circle cx="331.8" cy="638.5" r="6.8"/></g><g class="o"><circle cx="180" cy="780" r="6.8"/><circle cx="142.7" cy="790" r="6.8"/><circle cx="150.7" cy="794" r="6.8"/><circle cx="145.3" cy="783.3" r="6.8"/><circle cx="152" cy="774" r="6.8"/><circle cx="152" cy="784.7" r="6.8"/><circle cx="160" cy="794" r="6.8"/><circle cx="164" cy="786" r="6.8"/><circle cx="168" cy="795.3" r="6.8"/><circle cx="173.3" cy="788.7" r="6.8"/><circle cx="176" cy="794" r="6.8"/><circle cx="182.7" cy="790" r="6.8"/><circle cx="189.3" cy="786" r="6.8"/><circle cx="190.7" cy="792.7" r="6.8"/><circle cx="192" cy="776.7" r="6.8"/><circle cx="186.7" cy="771.3" r="6.8"/><circle cx="166.7" cy="771.3" r="6.8"/><circle cx="172" cy="758" r="6.8"/><circle cx="178.7" cy="760.7" r="6.8"/><circle cx="186.7" cy="762" r="6.8"/><circle cx="192" cy="764.7" r="6.8"/><circle cx="173.3" cy="768.7" r="6.8"/><circle cx="180" cy="770" r="6.8"/><circle cx="164" cy="764.7" r="6.8"/><circle cx="205.3" cy="758" r="6.8"/><circle cx="208" cy="764.7" r="6.8"/><circle cx="209.3" cy="770" r="6.8"/><circle cx="204" cy="768.7" r="6.8"/><circle cx="216" cy="728.7" r="6.8"/><circle cx="222.7" cy="727.3" r="6.8"/><circle cx="226.7" cy="731.3" r="6.8"/><circle cx="221.3" cy="711.3" r="6.8"/><circle cx="224" cy="719.3" r="6.8"/><circle cx="229.3" cy="722" r="6.8"/><circle cx="225.3" cy="744.7" r="6.8"/><circle cx="222.7" cy="740.7" r="6.8"/><circle cx="238.7" cy="711.3" r="6.8"/><circle cx="242.7" cy="723.3" r="6.8"/><circle cx="245.3" cy="731.3" r="6.8"/><circle cx="244" cy="740.7" r="6.8"/><circle cx="246.7" cy="726" r="6.8"/><circle cx="266.7" cy="710" r="6.8"/><circle cx="268" cy="716.7" r="6.8"/><circle cx="270.7" cy="723.3" r="6.8"/><circle cx="264" cy="728.7" r="6.8"/><circle cx="266.7" cy="731.3" r="6.8"/><circle cx="285.3" cy="727.3" r="6.8"/><circle cx="297.3" cy="723.3" r="6.8"/><circle cx="271.3" cy="669.3" r="6.8"/><circle cx="294" cy="660.7" r="6.8"/><circle cx="310.7" cy="652.7" r="6.8"/><circle cx="318.7" cy="687.3" r="6.8"/><circle cx="333.3" cy="670" r="6.8"/><circle cx="330.7" cy="680.7" r="6.8"/><circle cx="336" cy="686" r="6.8"/><circle cx="338.7" cy="662" r="6.8"/><circle cx="327.4" cy="602.5" r="6.8"/><circle cx="338.9" cy="611.3" r="6.8"/><circle cx="337.3" cy="618.9" r="6.8"/><circle cx="337.8" cy="626.5" r="6.8"/><circle cx="312.2" cy="624.3" r="6.8"/><circle cx="374.3" cy="605.8" r="6.8"/><circle cx="382.5" cy="603.1" r="6.8"/><circle cx="408.7" cy="598.2" r="6.8"/><circle cx="414.7" cy="599.3" r="6.8"/><circle cx="399.4" cy="614.5" r="6.8"/><circle cx="390.7" cy="621.1" r="6.8"/><circle cx="386.3" cy="627.6" r="6.8"/><circle cx="388.5" cy="636.3" r="6.8"/><circle cx="392.9" cy="640.7" r="6.8"/><circle cx="399.4" cy="642.9" r="6.8"/><circle cx="361.3" cy="625.4" r="6.8"/><circle cx="355.8" cy="634.2" r="6.8"/><circle cx="368.9" cy="636.3" r="6.8"/><circle cx="364.5" cy="645.1" r="6.8"/><circle cx="363.4" cy="650.5" r="6.8"/><circle cx="358" cy="642.9" r="6.8"/><circle cx="451.8" cy="610.2" r="6.8"/><circle cx="447.2" cy="632.5" r="6.8"/><circle cx="336.7" cy="661.4" r="6.8"/></g><line class="tb" x1="140" y1="761.9" x2="447.6" y2="587.9"/><line class="to" x1="140" y1="798.8" x2="444" y2="579.2"/>
<text class="ti" x="369.3" y="485.8" textLength="85.3" lengthAdjust="spacingAndGlyphs">Tokyo</text>
<text class="eq" x="330.9" y="751.2" xml:space="preserve">GPP<tspan dy="7" font-size="17.5">vpm</tspan><tspan dy="-7"> = 240.0x - 11.9</tspan></text><text class="eq" x="622.2" y="751.2" textLength="125.1" lengthAdjust="spacingAndGlyphs">(R<tspan dy="-9" font-size="17.5">2</tspan><tspan dy="9"> = 0.91)</tspan></text><text class="eq" x="328.7" y="783.3" xml:space="preserve">GPP<tspan dy="7" font-size="17.5">mod17</tspan><tspan dy="-7"> = 188.2x + 33.1</tspan></text><text class="eq" x="625" y="783.3" textLength="125.1" lengthAdjust="spacingAndGlyphs">(R<tspan dy="-9" font-size="17.5">2</tspan><tspan dy="9"> = 0.86)</tspan></text>
</g>
<g id="pd">
<text class="t" text-anchor="end" x="963.5" y="814">0</text>
<text class="t" text-anchor="end" x="963.5" y="723.8">100</text>
<line class="tk" x1="987.6" y1="715.2" x2="997.6" y2="715.2"/>
<text class="t" text-anchor="end" x="963.5" y="633.6">200</text>
<line class="tk" x1="987.6" y1="625" x2="997.6" y2="625"/>
<text class="t" text-anchor="end" x="963.5" y="543.3">300</text>
<line class="tk" x1="987.6" y1="534.7" x2="997.6" y2="534.7"/>
<text class="t" text-anchor="end" x="963.5" y="453.1">400</text>
<text class="t" letter-spacing="-0.45" text-anchor="middle" x="987.6" y="847.2">0.0</text>
<text class="t" letter-spacing="-0.45" text-anchor="middle" x="1045.6" y="847.2">0.2</text>
<line class="tk" x1="1045.6" y1="805.4" x2="1045.6" y2="795.4"/>
<text class="t" letter-spacing="-0.45" text-anchor="middle" x="1103.7" y="847.2">0.4</text>
<line class="tk" x1="1103.7" y1="805.4" x2="1103.7" y2="795.4"/>
<text class="t" letter-spacing="-0.45" text-anchor="middle" x="1161.7" y="847.2">0.6</text>
<line class="tk" x1="1161.7" y1="805.4" x2="1161.7" y2="795.4"/>
<text class="t" letter-spacing="-0.45" text-anchor="middle" x="1219.7" y="847.2">0.8</text>
<line class="tk" x1="1219.7" y1="805.4" x2="1219.7" y2="795.4"/>
<text class="t" letter-spacing="-0.45" text-anchor="middle" x="1277.8" y="847.2">1.0</text>
<line class="tk" x1="1277.8" y1="805.4" x2="1277.8" y2="795.4"/>
<text class="t" letter-spacing="-0.45" text-anchor="middle" x="1335.8" y="847.2">1.2</text>
<line class="tk" x1="1335.8" y1="805.4" x2="1335.8" y2="795.4"/>
<text class="t" letter-spacing="-0.45" text-anchor="middle" x="1393.9" y="847.2">1.4</text>
<line class="tk" x1="1393.9" y1="805.4" x2="1393.9" y2="795.4"/>
<text class="t" letter-spacing="-0.45" text-anchor="middle" x="1451.9" y="847.2">1.6</text>
<line class="tk" x1="1451.9" y1="805.4" x2="1451.9" y2="795.4"/>
<text class="t" letter-spacing="-0.45" text-anchor="middle" x="1509.9" y="847.2">1.8</text>
<line class="tk" x1="1509.9" y1="805.4" x2="1509.9" y2="795.4"/>
<text class="t" letter-spacing="-0.45" text-anchor="middle" x="1568" y="847.2">2.0</text>
<line class="tk" x1="1568" y1="805.4" x2="1568" y2="795.4"/>
<text class="t" letter-spacing="-0.45" text-anchor="middle" x="1626" y="847.2">2.2</text>
<rect class="ax" x="987.6" y="444.5" width="638.4" height="360.9"/>
<text class="at" text-anchor="middle" transform="translate(904.8 625.8) rotate(-90)">GPP (gC m<tspan dy="-9" font-size="17.5">-2</tspan><tspan dy="9"> month</tspan><tspan dy="-9" font-size="17.5">-1</tspan><tspan dy="9">)</tspan></text>
<text class="lb" x="1010.2" y="486.5">(<tspan font-weight="bold">d</tspan>)</text>
<g class="b"><circle cx="987.1" cy="713" r="6.8"/><circle cx="1028.9" cy="716.7" r="6.8"/><circle cx="1047.7" cy="726.4" r="6.8"/><circle cx="1061.7" cy="707" r="6.8"/><circle cx="1063.5" cy="714.2" r="6.8"/><circle cx="1091.4" cy="708.2" r="6.8"/><circle cx="1093.8" cy="713" r="6.8"/><circle cx="1110.2" cy="708.2" r="6.8"/><circle cx="1116.8" cy="711.8" r="6.8"/><circle cx="1112" cy="730" r="6.8"/><circle cx="1110.2" cy="745.2" r="6.8"/><circle cx="1025.3" cy="745.8" r="6.8"/><circle cx="1032" cy="750.6" r="6.8"/><circle cx="1055" cy="749.4" r="6.8"/><circle cx="1050.2" cy="753" r="6.8"/><circle cx="1035.6" cy="755.5" r="6.8"/><circle cx="1021.1" cy="757.9" r="6.8"/><circle cx="1013.8" cy="762.7" r="6.8"/><circle cx="1005.3" cy="765.2" r="6.8"/><circle cx="1001.7" cy="772.4" r="6.8"/><circle cx="1000.5" cy="779.7" r="6.8"/><circle cx="1011.4" cy="767.6" r="6.8"/><circle cx="1029.5" cy="770" r="6.8"/><circle cx="1035.6" cy="773.6" r="6.8"/><circle cx="1055" cy="774.8" r="6.8"/><circle cx="1085.9" cy="770" r="6.8"/><circle cx="1041.7" cy="650.3" r="6.8"/><circle cx="1044.7" cy="661.8" r="6.8"/><circle cx="1068.3" cy="664.8" r="6.8"/><circle cx="1078" cy="638.8" r="6.8"/><circle cx="1084.1" cy="649.7" r="6.8"/><circle cx="1093.2" cy="664.2" r="6.8"/><circle cx="1096.8" cy="672.7" r="6.8"/><circle cx="1103.5" cy="644.8" r="6.8"/><circle cx="1113.2" cy="652.1" r="6.8"/><circle cx="1119.2" cy="633.9" r="6.8"/><circle cx="1121.7" cy="642.4" r="6.8"/><circle cx="1127.7" cy="648.5" r="6.8"/><circle cx="1115.6" cy="655.8" r="6.8"/><circle cx="1136.2" cy="630.3" r="6.8"/><circle cx="1148.3" cy="629.1" r="6.8"/><circle cx="1152" cy="637.6" r="6.8"/><circle cx="1144.1" cy="601.8" r="6.8"/><circle cx="1159.2" cy="615.8" r="6.8"/><circle cx="1164.1" cy="613.3" r="6.8"/><circle cx="1168.9" cy="619.4" r="6.8"/><circle cx="1173.8" cy="606.1" r="6.8"/><circle cx="1165.3" cy="646.1" r="6.8"/><circle cx="1161.7" cy="649.7" r="6.8"/><circle cx="1204.4" cy="575.5" r="6.8"/><circle cx="1230.5" cy="583.3" r="6.8"/><circle cx="1248.6" cy="580.3" r="6.8"/><circle cx="1260.2" cy="573" r="6.8"/><circle cx="1252.3" cy="588.8" r="6.8"/><circle cx="1292.9" cy="579.7" r="6.8"/><circle cx="1241.4" cy="599.7" r="6.8"/><circle cx="1253.5" cy="600.9" r="6.8"/><circle cx="1255.9" cy="608.2" r="6.8"/><circle cx="1264.4" cy="609.4" r="6.8"/><circle cx="1218.3" cy="604.5" r="6.8"/><circle cx="1209.8" cy="607" r="6.8"/><circle cx="1198.9" cy="610.6" r="6.8"/><circle cx="1177.1" cy="605.8" r="6.8"/><circle cx="1184.4" cy="613" r="6.8"/><circle cx="1169.8" cy="615.5" r="6.8"/><circle cx="1180.8" cy="622.7" r="6.8"/><circle cx="1174.7" cy="625.2" r="6.8"/><circle cx="1242.6" cy="614.2" r="6.8"/><circle cx="1249.8" cy="619.1" r="6.8"/><circle cx="1224.4" cy="617.9" r="6.8"/><circle cx="1215.9" cy="632.4" r="6.8"/><circle cx="1218.3" cy="639.7" r="6.8"/><circle cx="1220.8" cy="648.2" r="6.8"/><circle cx="1211.1" cy="640.9" r="6.8"/><circle cx="1196.5" cy="640.9" r="6.8"/><circle cx="1167.4" cy="647" r="6.8"/><circle cx="1286.2" cy="637.3" r="6.8"/></g><g class="o"><circle cx="987.1" cy="763.9" r="6.8"/><circle cx="987.1" cy="789.4" r="6.8"/><circle cx="1042.9" cy="710.6" r="6.8"/><circle cx="1046.5" cy="714.2" r="6.8"/><circle cx="1068.3" cy="720.3" r="6.8"/><circle cx="1078" cy="707" r="6.8"/><circle cx="1084.1" cy="711.8" r="6.8"/><circle cx="1082.9" cy="725.2" r="6.8"/><circle cx="1091.4" cy="725.2" r="6.8"/><circle cx="1095" cy="730" r="6.8"/><circle cx="1096.2" cy="738.5" r="6.8"/><circle cx="1104.1" cy="712.4" r="6.8"/><circle cx="1130.2" cy="709.4" r="6.8"/><circle cx="1126.5" cy="716.7" r="6.8"/><circle cx="1116.8" cy="721.5" r="6.8"/><circle cx="1120.5" cy="725.2" r="6.8"/><circle cx="1165.3" cy="714.2" r="6.8"/><circle cx="1028.9" cy="761.5" r="6.8"/><circle cx="1046.5" cy="761.5" r="6.8"/><circle cx="1047.7" cy="770" r="6.8"/><circle cx="1062.3" cy="757.9" r="6.8"/><circle cx="1059.8" cy="763.9" r="6.8"/><circle cx="1078" cy="750.6" r="6.8"/><circle cx="1080.5" cy="755.5" r="6.8"/><circle cx="1090.2" cy="760.3" r="6.8"/><circle cx="1093.8" cy="762.7" r="6.8"/><circle cx="1109.5" cy="760.3" r="6.8"/><circle cx="1120.5" cy="756.7" r="6.8"/><circle cx="1110.8" cy="767.6" r="6.8"/><circle cx="1120.5" cy="766.4" r="6.8"/><circle cx="1085.9" cy="794.2" r="6.8"/><circle cx="1001.7" cy="790.6" r="6.8"/><circle cx="1000.5" cy="796.7" r="6.8"/><circle cx="1010.2" cy="785.8" r="6.8"/><circle cx="1017.4" cy="784.5" r="6.8"/><circle cx="1025.9" cy="779.7" r="6.8"/><circle cx="1033.2" cy="779.7" r="6.8"/><circle cx="1040.5" cy="782.1" r="6.8"/><circle cx="1025.9" cy="789.4" r="6.8"/><circle cx="1033.2" cy="790.6" r="6.8"/><circle cx="1040.5" cy="795.5" r="6.8"/><circle cx="1038" cy="799.1" r="6.8"/><circle cx="1047.7" cy="785.8" r="6.8"/><circle cx="1055" cy="785.8" r="6.8"/><circle cx="1053.8" cy="793" r="6.8"/><circle cx="1050.2" cy="795.5" r="6.8"/><circle cx="1136.2" cy="635.2" r="6.8"/><circle cx="1144.7" cy="648.5" r="6.8"/><circle cx="1147.1" cy="652.1" r="6.8"/><circle cx="1162.9" cy="629.1" r="6.8"/><circle cx="1168.9" cy="632.7" r="6.8"/><circle cx="1159.2" cy="641.2" r="6.8"/><circle cx="1119.8" cy="684.2" r="6.8"/><circle cx="1151.4" cy="673.9" r="6.8"/><circle cx="1158" cy="673.9" r="6.8"/><circle cx="1170.2" cy="665.5" r="6.8"/><circle cx="1173.8" cy="675.2" r="6.8"/><circle cx="1201.4" cy="615.5" r="6.8"/><circle cx="1220.8" cy="623.9" r="6.8"/><circle cx="1230.5" cy="620.3" r="6.8"/><circle cx="1228" cy="632.4" r="6.8"/><circle cx="1225.6" cy="642.1" r="6.8"/><circle cx="1223.2" cy="647" r="6.8"/><circle cx="1242.6" cy="628.8" r="6.8"/><circle cx="1249.8" cy="627.6" r="6.8"/><circle cx="1260.8" cy="620.3" r="6.8"/><circle cx="1253.5" cy="634.8" r="6.8"/><circle cx="1263.2" cy="634.8" r="6.8"/><circle cx="1253.5" cy="645.8" r="6.8"/><circle cx="1252.9" cy="653" r="6.8"/><circle cx="1286.2" cy="631.2" r="6.8"/><circle cx="1293.5" cy="630" r="6.8"/><circle cx="1210.5" cy="646.4" r="6.8"/><circle cx="1180.8" cy="649.4" r="6.8"/><circle cx="1183.2" cy="639.7" r="6.8"/><circle cx="1167.4" cy="633.6" r="6.8"/><circle cx="1169.8" cy="665.2" r="6.8"/><circle cx="1177.1" cy="666.4" r="6.8"/><circle cx="1177.1" cy="677.3" r="6.8"/><circle cx="1229.2" cy="660.9" r="6.8"/><circle cx="1214.7" cy="666.4" r="6.8"/><circle cx="1217.1" cy="674.8" r="6.8"/><circle cx="1219.5" cy="682.1" r="6.8"/><circle cx="1222" cy="685.8" r="6.8"/><circle cx="1231.7" cy="682.7" r="6.8"/><circle cx="1196.8" cy="684.5" r="6.8"/><circle cx="1166.2" cy="714.8" r="6.8"/></g><line class="tb" x1="987.6" y1="766.7" x2="1288" y2="567"/><line class="to" x1="987.6" y1="805.7" x2="1286.8" y2="604.3"/>
<text class="ti" x="1225.6" y="486.2" textLength="84" lengthAdjust="spacingAndGlyphs">Osaka</text>
<text class="eq" x="1189.2" y="757.4" xml:space="preserve">GPP<tspan dy="7" font-size="17.5">vpm</tspan><tspan dy="-7"> = 215.9x - 0.3</tspan></text><text class="eq" x="1480.8" y="757.4" textLength="125.3" lengthAdjust="spacingAndGlyphs">(R<tspan dy="-9" font-size="17.5">2</tspan><tspan dy="9"> = 0.81)</tspan></text><text class="eq" x="1187.2" y="789.7" xml:space="preserve">GPP<tspan dy="7" font-size="17.5">mod17</tspan><tspan dy="-7"> = 213.3x + 42.9</tspan></text><text class="eq" x="1482.2" y="789.7" textLength="124.6" lengthAdjust="spacingAndGlyphs">(R<tspan dy="-9" font-size="17.5">2</tspan><tspan dy="9"> = 0.75)</tspan></text>
</g>
<g id="pe">
<text class="t" text-anchor="end" x="93.1" y="1240.6">0</text>
<text class="t" text-anchor="end" x="93.1" y="1150.5">100</text>
<line class="tk" x1="116" y1="1141.9" x2="126" y2="1141.9"/>
<text class="t" text-anchor="end" x="93.1" y="1060.3">200</text>
<line class="tk" x1="116" y1="1051.8" x2="126" y2="1051.8"/>
<text class="t" text-anchor="end" x="93.1" y="970.2">300</text>
<line class="tk" x1="116" y1="961.6" x2="126" y2="961.6"/>
<text class="t" text-anchor="end" x="93.1" y="880.1">400</text>
<text class="t" letter-spacing="-0.45" text-anchor="middle" x="116" y="1273.8">0.0</text>
<text class="t" letter-spacing="-0.45" text-anchor="middle" x="176.1" y="1273.8">0.2</text>
<line class="tk" x1="176.1" y1="1232" x2="176.1" y2="1222"/>
<text class="t" letter-spacing="-0.45" text-anchor="middle" x="236.1" y="1273.8">0.4</text>
<line class="tk" x1="236.1" y1="1232" x2="236.1" y2="1222"/>
<text class="t" letter-spacing="-0.45" text-anchor="middle" x="296.2" y="1273.8">0.6</text>
<line class="tk" x1="296.2" y1="1232" x2="296.2" y2="1222"/>
<text class="t" letter-spacing="-0.45" text-anchor="middle" x="356.2" y="1273.8">0.8</text>
<line class="tk" x1="356.2" y1="1232" x2="356.2" y2="1222"/>
<text class="t" letter-spacing="-0.45" text-anchor="middle" x="416.3" y="1273.8">1.0</text>
<line class="tk" x1="416.3" y1="1232" x2="416.3" y2="1222"/>
<text class="t" letter-spacing="-0.45" text-anchor="middle" x="476.3" y="1273.8">1.2</text>
<line class="tk" x1="476.3" y1="1232" x2="476.3" y2="1222"/>
<text class="t" letter-spacing="-0.45" text-anchor="middle" x="536.4" y="1273.8">1.4</text>
<line class="tk" x1="536.4" y1="1232" x2="536.4" y2="1222"/>
<text class="t" letter-spacing="-0.45" text-anchor="middle" x="596.4" y="1273.8">1.6</text>
<line class="tk" x1="596.4" y1="1232" x2="596.4" y2="1222"/>
<text class="t" letter-spacing="-0.45" text-anchor="middle" x="656.5" y="1273.8">1.8</text>
<line class="tk" x1="656.5" y1="1232" x2="656.5" y2="1222"/>
<text class="t" letter-spacing="-0.45" text-anchor="middle" x="716.5" y="1273.8">2.0</text>
<line class="tk" x1="716.5" y1="1232" x2="716.5" y2="1222"/>
<text class="t" letter-spacing="-0.45" text-anchor="middle" x="776.6" y="1273.8">2.2</text>
<rect class="ax" x="116" y="871.5" width="660.6" height="360.5"/>
<text class="at" text-anchor="middle" transform="translate(37.1 1052.5) rotate(-90)">GPP (gC m<tspan dy="-9" font-size="17.5">-2</tspan><tspan dy="9"> month</tspan><tspan dy="-9" font-size="17.5">-1</tspan><tspan dy="9">)</tspan></text>
<text class="lb" x="139.1" y="913.1">(<tspan>e</tspan>)</text>
<g class="b"><circle cx="130" cy="1210.7" r="6.8"/><circle cx="165.3" cy="1205.3" r="6.8"/><circle cx="246.7" cy="1179.3" r="6.8"/><circle cx="284" cy="1142.7" r="6.8"/><circle cx="306.7" cy="1148.7" r="6.8"/><circle cx="304" cy="1129.3" r="6.8"/><circle cx="314.7" cy="1135.3" r="6.8"/><circle cx="196" cy="1200" r="6.8"/><circle cx="204" cy="1198.7" r="6.8"/><circle cx="178.7" cy="1225.3" r="6.8"/><circle cx="117.3" cy="1226.7" r="6.8"/><circle cx="153.3" cy="1222.7" r="6.8"/><circle cx="144" cy="1225.3" r="6.8"/><circle cx="169.3" cy="1220" r="6.8"/><circle cx="328.6" cy="1145.9" r="6.8"/><circle cx="323.9" cy="1159.3" r="6.8"/><circle cx="327.8" cy="1167.2" r="6.8"/><circle cx="345.2" cy="1162.4" r="6.8"/><circle cx="342" cy="1168.7" r="6.8"/><circle cx="349.9" cy="1134.9" r="6.8"/><circle cx="357.8" cy="1138.8" r="6.8"/><circle cx="364.1" cy="1143.5" r="6.8"/><circle cx="370.4" cy="1145.1" r="6.8"/><circle cx="369.6" cy="1127.8" r="6.8"/><circle cx="377.5" cy="1121.5" r="6.8"/><circle cx="383" cy="1135.6" r="6.8"/><circle cx="365.6" cy="1157.7" r="6.8"/><circle cx="362.5" cy="1167.2" r="6.8"/><circle cx="354.6" cy="1176.6" r="6.8"/><circle cx="359.3" cy="1173.5" r="6.8"/><circle cx="371.9" cy="1170.3" r="6.8"/><circle cx="384.5" cy="1160.9" r="6.8"/><circle cx="394" cy="1157.7" r="6.8"/><circle cx="403.5" cy="1157.7" r="6.8"/><circle cx="409.8" cy="1164" r="6.8"/><circle cx="412.9" cy="1171.9" r="6.8"/><circle cx="406.6" cy="1175" r="6.8"/><circle cx="411.3" cy="1143.5" r="6.8"/><circle cx="420.8" cy="1129.3" r="6.8"/><circle cx="417.6" cy="1137.2" r="6.8"/><circle cx="449.2" cy="1133.3" r="6.8"/><circle cx="454.7" cy="1113.6" r="6.8"/><circle cx="461.8" cy="1119.9" r="6.8"/><circle cx="468.1" cy="1126.2" r="6.8"/><circle cx="469.6" cy="1130.9" r="6.8"/><circle cx="471.2" cy="1145.9" r="6.8"/><circle cx="483" cy="1118.3" r="6.8"/><circle cx="485.4" cy="1126.2" r="6.8"/><circle cx="499.6" cy="1119.9" r="6.8"/><circle cx="502.7" cy="1113.6" r="6.8"/><circle cx="509" cy="1104.1" r="6.8"/><circle cx="525.6" cy="1108.1" r="6.8"/></g><g class="o"><circle cx="117.3" cy="1231.3" r="6.8"/><circle cx="126.7" cy="1232" r="6.8"/><circle cx="136" cy="1232.7" r="6.8"/><circle cx="145.3" cy="1231.3" r="6.8"/><circle cx="154.7" cy="1230.7" r="6.8"/><circle cx="164" cy="1230.7" r="6.8"/><circle cx="173.3" cy="1230.7" r="6.8"/><circle cx="177.3" cy="1228" r="6.8"/><circle cx="130" cy="1220" r="6.8"/><circle cx="150.7" cy="1226.7" r="6.8"/><circle cx="165.3" cy="1213.3" r="6.8"/><circle cx="165.3" cy="1222.7" r="6.8"/><circle cx="156" cy="1195.3" r="6.8"/><circle cx="180.7" cy="1198.7" r="6.8"/><circle cx="181.3" cy="1205.3" r="6.8"/><circle cx="197.3" cy="1208" r="6.8"/><circle cx="202.7" cy="1186.7" r="6.8"/><circle cx="210.7" cy="1185.3" r="6.8"/><circle cx="222" cy="1178.7" r="6.8"/><circle cx="226.7" cy="1185.3" r="6.8"/><circle cx="217.3" cy="1190.7" r="6.8"/><circle cx="206.7" cy="1190.7" r="6.8"/><circle cx="225.3" cy="1194.7" r="6.8"/><circle cx="237.3" cy="1190.7" r="6.8"/><circle cx="206.7" cy="1230.7" r="6.8"/><circle cx="306.7" cy="1122.7" r="6.8"/><circle cx="305" cy="1073.4" r="6.8"/><circle cx="324.7" cy="1069.8" r="6.8"/><circle cx="314.4" cy="1098.6" r="6.8"/><circle cx="305.8" cy="1119.9" r="6.8"/><circle cx="364.9" cy="1069.5" r="6.8"/><circle cx="377.5" cy="1077.3" r="6.8"/><circle cx="383" cy="1086" r="6.8"/><circle cx="375.1" cy="1094.7" r="6.8"/><circle cx="353" cy="1093.9" r="6.8"/><circle cx="345.2" cy="1102.5" r="6.8"/><circle cx="362.5" cy="1102.5" r="6.8"/><circle cx="368.8" cy="1117.5" r="6.8"/><circle cx="412.9" cy="1111.2" r="6.8"/><circle cx="408.2" cy="1063.2" r="6.8"/><circle cx="369.9" cy="962.8" r="6.8"/><circle cx="454.7" cy="965.5" r="6.8"/><circle cx="483.5" cy="964.4" r="6.8"/><circle cx="464.9" cy="974.9" r="6.8"/><circle cx="485.4" cy="978.8" r="6.8"/><circle cx="508.2" cy="977" r="6.8"/><circle cx="525.6" cy="983.3" r="6.8"/><circle cx="449.9" cy="985.9" r="6.8"/><circle cx="468.9" cy="988" r="6.8"/><circle cx="501.2" cy="999.3" r="6.8"/><circle cx="422.1" cy="999.3" r="6.8"/><circle cx="377.5" cy="1006.1" r="6.8"/><circle cx="349.6" cy="1013.8" r="6.8"/><circle cx="407.4" cy="1024.5" r="6.8"/><circle cx="405.8" cy="1031.6" r="6.8"/><circle cx="328.6" cy="1041.6" r="6.8"/><circle cx="368.3" cy="1039" r="6.8"/><circle cx="384.5" cy="1050.5" r="6.8"/><circle cx="390.9" cy="1051.3" r="6.8"/><circle cx="401.1" cy="1060" r="6.8"/><circle cx="246.7" cy="1069.1" r="6.8"/><circle cx="283.9" cy="1097.3" r="6.8"/></g><line class="tb" x1="116" y1="1232.4" x2="521.6" y2="1106.2"/><line class="to" x1="141.9" y1="1232" x2="521.6" y2="953.6"/>
<text class="ti" x="359.7" y="914" textLength="100.1" lengthAdjust="spacingAndGlyphs">Beijing</text>
<text class="eq" x="355.7" y="1191.8" xml:space="preserve">GPP<tspan dy="7" font-size="17.5">vpm</tspan><tspan dy="-7"> = 243.9x - 21.0</tspan></text><text class="eq" x="635.3" y="1191.8" textLength="124.5" lengthAdjust="spacingAndGlyphs">(R<tspan dy="-9" font-size="17.5">2</tspan><tspan dy="9"> = 0.93)</tspan></text><text class="eq" x="357.1" y="1224.7" xml:space="preserve">GPP<tspan dy="7" font-size="17.5">mod17</tspan><tspan dy="-7"> = 103.6x - 0.4</tspan></text><text class="eq" x="633.9" y="1224.7" textLength="125.9" lengthAdjust="spacingAndGlyphs">(R<tspan dy="-9" font-size="17.5">2</tspan><tspan dy="9"> = 0.88)</tspan></text>
</g>
<g id="pf">
<text class="t" text-anchor="end" x="963.5" y="1244.4">0</text>
<text class="t" text-anchor="end" x="963.5" y="1154">100</text>
<line class="tk" x1="987.6" y1="1145.4" x2="997.6" y2="1145.4"/>
<text class="t" text-anchor="end" x="963.5" y="1063.6">200</text>
<line class="tk" x1="987.6" y1="1055" x2="997.6" y2="1055"/>
<text class="t" text-anchor="end" x="963.5" y="973.2">300</text>
<line class="tk" x1="987.6" y1="964.6" x2="997.6" y2="964.6"/>
<text class="t" text-anchor="end" x="963.5" y="882.8">400</text>
<text class="t" letter-spacing="-0.45" text-anchor="middle" x="987.6" y="1277.6">0.0</text>
<text class="t" letter-spacing="-0.45" text-anchor="middle" x="1045.6" y="1277.6">0.2</text>
<line class="tk" x1="1045.6" y1="1235.8" x2="1045.6" y2="1225.8"/>
<text class="t" letter-spacing="-0.45" text-anchor="middle" x="1103.7" y="1277.6">0.4</text>
<line class="tk" x1="1103.7" y1="1235.8" x2="1103.7" y2="1225.8"/>
<text class="t" letter-spacing="-0.45" text-anchor="middle" x="1161.7" y="1277.6">0.6</text>
<line class="tk" x1="1161.7" y1="1235.8" x2="1161.7" y2="1225.8"/>
<text class="t" letter-spacing="-0.45" text-anchor="middle" x="1219.7" y="1277.6">0.8</text>
<line class="tk" x1="1219.7" y1="1235.8" x2="1219.7" y2="1225.8"/>
<text class="t" letter-spacing="-0.45" text-anchor="middle" x="1277.7" y="1277.6">1.0</text>
<line class="tk" x1="1277.7" y1="1235.8" x2="1277.7" y2="1225.8"/>
<text class="t" letter-spacing="-0.45" text-anchor="middle" x="1335.8" y="1277.6">1.2</text>
<line class="tk" x1="1335.8" y1="1235.8" x2="1335.8" y2="1225.8"/>
<text class="t" letter-spacing="-0.45" text-anchor="middle" x="1393.8" y="1277.6">1.4</text>
<line class="tk" x1="1393.8" y1="1235.8" x2="1393.8" y2="1225.8"/>
<text class="t" letter-spacing="-0.45" text-anchor="middle" x="1451.8" y="1277.6">1.6</text>
<line class="tk" x1="1451.8" y1="1235.8" x2="1451.8" y2="1225.8"/>
<text class="t" letter-spacing="-0.45" text-anchor="middle" x="1509.8" y="1277.6">1.8</text>
<line class="tk" x1="1509.8" y1="1235.8" x2="1509.8" y2="1225.8"/>
<text class="t" letter-spacing="-0.45" text-anchor="middle" x="1567.9" y="1277.6">2.0</text>
<line class="tk" x1="1567.9" y1="1235.8" x2="1567.9" y2="1225.8"/>
<text class="t" letter-spacing="-0.45" text-anchor="middle" x="1625.9" y="1277.6">2.2</text>
<rect class="ax" x="987.6" y="874.2" width="638.3" height="361.6"/>
<text class="at" text-anchor="middle" transform="translate(904.5 1055.8) rotate(-90)">GPP (gC m<tspan dy="-9" font-size="17.5">-2</tspan><tspan dy="9"> month</tspan><tspan dy="-9" font-size="17.5">-1</tspan><tspan dy="9">)</tspan></text>
<text class="lb" x="1010.1" y="913.1">(<tspan>f</tspan>)</text>
<g class="b"><circle cx="1020.5" cy="1181.8" r="6.8"/><circle cx="1012.6" cy="1194.5" r="6.8"/><circle cx="1032" cy="1193.3" r="6.8"/><circle cx="1038" cy="1188.5" r="6.8"/><circle cx="1045.3" cy="1184.8" r="6.8"/><circle cx="1052.6" cy="1183.6" r="6.8"/><circle cx="1059.8" cy="1183.6" r="6.8"/><circle cx="1040.5" cy="1195.8" r="6.8"/><circle cx="1033.2" cy="1200.6" r="6.8"/><circle cx="994.4" cy="1215.2" r="6.8"/><circle cx="1002.9" cy="1210.3" r="6.8"/><circle cx="1015" cy="1209.1" r="6.8"/><circle cx="1053.8" cy="1218.2" r="6.8"/><circle cx="1073.2" cy="1178.8" r="6.8"/><circle cx="1093.2" cy="1190.3" r="6.8"/><circle cx="1108.3" cy="1189.1" r="6.8"/><circle cx="1137.4" cy="1211.5" r="6.8"/><circle cx="1147.1" cy="1188.5" r="6.8"/><circle cx="1075" cy="1134.5" r="6.8"/><circle cx="1068.3" cy="1147.3" r="6.8"/><circle cx="1075.6" cy="1143.6" r="6.8"/><circle cx="1064.7" cy="1148.5" r="6.8"/><circle cx="1090.8" cy="1123.6" r="6.8"/><circle cx="1106.5" cy="1120" r="6.8"/><circle cx="1103.5" cy="1136.4" r="6.8"/><circle cx="1101.1" cy="1148.5" r="6.8"/><circle cx="1112" cy="1150.9" r="6.8"/><circle cx="1119.2" cy="1150.9" r="6.8"/><circle cx="1093.8" cy="1167.9" r="6.8"/><circle cx="1091.4" cy="1171.5" r="6.8"/><circle cx="1132.6" cy="1129.1" r="6.8"/><circle cx="1138.6" cy="1136.4" r="6.8"/><circle cx="1132.6" cy="1147.3" r="6.8"/><circle cx="1137.4" cy="1150.9" r="6.8"/><circle cx="1147.1" cy="1118.2" r="6.8"/><circle cx="1154.4" cy="1113.3" r="6.8"/><circle cx="1161.7" cy="1107.3" r="6.8"/><circle cx="1168.9" cy="1103.6" r="6.8"/><circle cx="1150.8" cy="1129.1" r="6.8"/><circle cx="1130.2" cy="1165.5" r="6.8"/><circle cx="1153.2" cy="1164.2" r="6.8"/><circle cx="1168.9" cy="1140" r="6.8"/><circle cx="1160.5" cy="1129.1" r="6.8"/><circle cx="1171.1" cy="1099.8" r="6.8"/><circle cx="1177.9" cy="1106.6" r="6.8"/><circle cx="1186.6" cy="1112.4" r="6.8"/><circle cx="1194.4" cy="1097.9" r="6.8"/><circle cx="1201.2" cy="1095.9" r="6.8"/><circle cx="1207" cy="1101.8" r="6.8"/><circle cx="1214.7" cy="1099.8" r="6.8"/><circle cx="1212.8" cy="1107.6" r="6.8"/><circle cx="1210.8" cy="1084.3" r="6.8"/><circle cx="1219.6" cy="1085.3" r="6.8"/><circle cx="1225.4" cy="1090.1" r="6.8"/><circle cx="1235.1" cy="1089.2" r="6.8"/><circle cx="1236.1" cy="1095.9" r="6.8"/><circle cx="1232.2" cy="1066.8" r="6.8"/><circle cx="1210.8" cy="1121.2" r="6.8"/><circle cx="1235.1" cy="1122.1" r="6.8"/><circle cx="1173" cy="1136.7" r="6.8"/><circle cx="1172.1" cy="1143.5" r="6.8"/></g><g class="o"><circle cx="995.6" cy="1228.5" r="6.8"/><circle cx="1004.1" cy="1230.9" r="6.8"/><circle cx="1005.3" cy="1223.6" r="6.8"/><circle cx="1012.6" cy="1217.6" r="6.8"/><circle cx="1013.8" cy="1227.3" r="6.8"/><circle cx="1022.3" cy="1228.5" r="6.8"/><circle cx="1023.5" cy="1220" r="6.8"/><circle cx="1030.8" cy="1232.1" r="6.8"/><circle cx="1032" cy="1222.4" r="6.8"/><circle cx="1032" cy="1211.5" r="6.8"/><circle cx="1040.5" cy="1206.7" r="6.8"/><circle cx="1040.5" cy="1216.4" r="6.8"/><circle cx="1041.7" cy="1226.1" r="6.8"/><circle cx="1048.9" cy="1227.3" r="6.8"/><circle cx="1050.2" cy="1209.1" r="6.8"/><circle cx="1052.6" cy="1216.4" r="6.8"/><circle cx="1047.7" cy="1221.2" r="6.8"/><circle cx="1018.6" cy="1201.8" r="6.8"/><circle cx="1022.3" cy="1209.1" r="6.8"/><circle cx="1011.4" cy="1211.5" r="6.8"/><circle cx="1073.2" cy="1204.2" r="6.8"/><circle cx="1095" cy="1204.2" r="6.8"/><circle cx="1091.4" cy="1207.9" r="6.8"/><circle cx="1108.3" cy="1210.3" r="6.8"/><circle cx="1110.2" cy="1196.4" r="6.8"/><circle cx="1137.4" cy="1226.7" r="6.8"/><circle cx="1145.3" cy="1209.1" r="6.8"/><circle cx="1141.7" cy="1183.6" r="6.8"/><circle cx="1153.8" cy="1193.9" r="6.8"/><circle cx="1067.1" cy="1159.4" r="6.8"/><circle cx="1073.2" cy="1155.8" r="6.8"/><circle cx="1075.6" cy="1164.2" r="6.8"/><circle cx="1073.2" cy="1170.3" r="6.8"/><circle cx="1090.8" cy="1132.7" r="6.8"/><circle cx="1086.5" cy="1144.8" r="6.8"/><circle cx="1084.1" cy="1147.3" r="6.8"/><circle cx="1096.2" cy="1140" r="6.8"/><circle cx="1105.9" cy="1141.2" r="6.8"/><circle cx="1101.1" cy="1153.3" r="6.8"/><circle cx="1115.6" cy="1158.2" r="6.8"/><circle cx="1114.4" cy="1165.5" r="6.8"/><circle cx="1108.3" cy="1169.1" r="6.8"/><circle cx="1102.3" cy="1171.5" r="6.8"/><circle cx="1110.8" cy="1172.7" r="6.8"/><circle cx="1130.8" cy="1106.1" r="6.8"/><circle cx="1125.3" cy="1124.8" r="6.8"/><circle cx="1131.4" cy="1126.1" r="6.8"/><circle cx="1138.6" cy="1120.6" r="6.8"/><circle cx="1135" cy="1157" r="6.8"/><circle cx="1131.4" cy="1160.6" r="6.8"/><circle cx="1141.1" cy="1163" r="6.8"/><circle cx="1144.7" cy="1159.4" r="6.8"/><circle cx="1148.3" cy="1146.1" r="6.8"/><circle cx="1156.8" cy="1146.1" r="6.8"/><circle cx="1154.4" cy="1124.2" r="6.8"/><circle cx="1150.8" cy="1130.3" r="6.8"/><circle cx="1161.7" cy="1153.3" r="6.8"/><circle cx="1168.9" cy="1148.5" r="6.8"/><circle cx="1161.7" cy="1164.2" r="6.8"/><circle cx="1168.9" cy="1160.6" r="6.8"/><circle cx="1170.2" cy="1115.8" r="6.8"/><circle cx="1166.5" cy="1120.6" r="6.8"/><circle cx="1171.6" cy="1083.3" r="6.8"/><circle cx="1194.4" cy="1088.2" r="6.8"/><circle cx="1212.8" cy="1089.2" r="6.8"/><circle cx="1209.9" cy="1074.6" r="6.8"/><circle cx="1219.6" cy="1068.8" r="6.8"/><circle cx="1232.2" cy="1049.4" r="6.8"/><circle cx="1233.6" cy="1058.1" r="6.8"/><circle cx="1226.4" cy="1102.7" r="6.8"/><circle cx="1228.3" cy="1095.9" r="6.8"/><circle cx="1227.3" cy="1110.5" r="6.8"/><circle cx="1227.3" cy="1117.3" r="6.8"/><circle cx="1225.4" cy="1126" r="6.8"/><circle cx="1235.1" cy="1126" r="6.8"/><circle cx="1195.3" cy="1106.6" r="6.8"/><circle cx="1195.3" cy="1123.1" r="6.8"/><circle cx="1203.1" cy="1125" r="6.8"/><circle cx="1209.9" cy="1127.9" r="6.8"/><circle cx="1195.3" cy="1134.7" r="6.8"/><circle cx="1177.9" cy="1115.3" r="6.8"/><circle cx="1179.8" cy="1127" r="6.8"/><circle cx="1181.8" cy="1132.8" r="6.8"/><circle cx="1183.7" cy="1125" r="6.8"/><circle cx="1173" cy="1110.5" r="6.8"/></g><line class="tb" x1="987.6" y1="1224.3" x2="1235.7" y2="1087.8"/><line class="to" x1="1001" y1="1235.8" x2="1235.7" y2="1093.9"/>
<text class="ti" x="1205.2" y="911.2" textLength="124.7" lengthAdjust="spacingAndGlyphs">Shanghai</text>
<text class="eq" x="1193.7" y="994.9" xml:space="preserve">GPP<tspan dy="7" font-size="17.5">vpm</tspan><tspan dy="-7"> = 194.2x - 9.0</tspan></text><text class="eq" x="1492" y="994.9" textLength="125.8" lengthAdjust="spacingAndGlyphs">(R<tspan dy="-9" font-size="17.5">2</tspan><tspan dy="9"> = 0.75)</tspan></text><text class="eq" x="1194.2" y="1027.4" xml:space="preserve">GPP<tspan dy="7" font-size="17.5">mod17</tspan><tspan dy="-7"> = 176.6x + 12.7</tspan></text><text class="eq" x="1489.2" y="1027.4" textLength="126.4" lengthAdjust="spacingAndGlyphs">(R<tspan dy="-9" font-size="17.5">2</tspan><tspan dy="9"> = 0.78)</tspan></text>
</g>
<g id="pg">
<text class="t" text-anchor="end" x="93.1" y="1678.3">0</text>
<text class="t" text-anchor="end" x="93.1" y="1588">100</text>
<line class="tk" x1="116" y1="1579.5" x2="126" y2="1579.5"/>
<text class="t" text-anchor="end" x="93.1" y="1497.8">200</text>
<line class="tk" x1="116" y1="1489.2" x2="126" y2="1489.2"/>
<text class="t" text-anchor="end" x="93.1" y="1407.5">300</text>
<line class="tk" x1="116" y1="1399" x2="126" y2="1399"/>
<text class="t" text-anchor="end" x="93.1" y="1317.3">400</text>
<text class="t" letter-spacing="-0.45" text-anchor="middle" x="116" y="1711.5">0.0</text>
<text class="t" letter-spacing="-0.45" text-anchor="middle" x="176.1" y="1711.5">0.2</text>
<line class="tk" x1="176.1" y1="1669.7" x2="176.1" y2="1659.7"/>
<text class="t" letter-spacing="-0.45" text-anchor="middle" x="236.1" y="1711.5">0.4</text>
<line class="tk" x1="236.1" y1="1669.7" x2="236.1" y2="1659.7"/>
<text class="t" letter-spacing="-0.45" text-anchor="middle" x="296.2" y="1711.5">0.6</text>
<line class="tk" x1="296.2" y1="1669.7" x2="296.2" y2="1659.7"/>
<text class="t" letter-spacing="-0.45" text-anchor="middle" x="356.2" y="1711.5">0.8</text>
<line class="tk" x1="356.2" y1="1669.7" x2="356.2" y2="1659.7"/>
<text class="t" letter-spacing="-0.45" text-anchor="middle" x="416.3" y="1711.5">1.0</text>
<line class="tk" x1="416.3" y1="1669.7" x2="416.3" y2="1659.7"/>
<text class="t" letter-spacing="-0.45" text-anchor="middle" x="476.3" y="1711.5">1.2</text>
<line class="tk" x1="476.3" y1="1669.7" x2="476.3" y2="1659.7"/>
<text class="t" letter-spacing="-0.45" text-anchor="middle" x="536.4" y="1711.5">1.4</text>
<line class="tk" x1="536.4" y1="1669.7" x2="536.4" y2="1659.7"/>
<text class="t" letter-spacing="-0.45" text-anchor="middle" x="596.4" y="1711.5">1.6</text>
<line class="tk" x1="596.4" y1="1669.7" x2="596.4" y2="1659.7"/>
<text class="t" letter-spacing="-0.45" text-anchor="middle" x="656.5" y="1711.5">1.8</text>
<line class="tk" x1="656.5" y1="1669.7" x2="656.5" y2="1659.7"/>
<text class="t" letter-spacing="-0.45" text-anchor="middle" x="716.5" y="1711.5">2.0</text>
<line class="tk" x1="716.5" y1="1669.7" x2="716.5" y2="1659.7"/>
<text class="t" letter-spacing="-0.45" text-anchor="middle" x="776.6" y="1711.5">2.2</text>
<rect class="ax" x="116" y="1308.7" width="660.6" height="361"/>
<text class="at" text-anchor="middle" transform="translate(37.1 1490) rotate(-90)">GPP (gC m<tspan dy="-9" font-size="17.5">-2</tspan><tspan dy="9"> month</tspan><tspan dy="-9" font-size="17.5">-1</tspan><tspan dy="9">)</tspan></text>
<text class="lb" x="139.1" y="1349.3">(<tspan>g</tspan>)</text>
<text class="ti" x="310.9" y="1347.6" textLength="283" lengthAdjust="spacingAndGlyphs">New York – Newark</text>
<g class="b"><circle cx="151.7" cy="1604" r="6.8"/><circle cx="176.4" cy="1597.6" r="6.8"/><circle cx="185.6" cy="1581.3" r="6.8"/><circle cx="208" cy="1586" r="6.8"/><circle cx="206.7" cy="1583.3" r="6.8"/><circle cx="223.3" cy="1576" r="6.8"/><circle cx="231.3" cy="1576" r="6.8"/><circle cx="228.7" cy="1552" r="6.8"/><circle cx="246" cy="1547.3" r="6.8"/><circle cx="246" cy="1559.3" r="6.8"/><circle cx="252" cy="1568.7" r="6.8"/><circle cx="257.3" cy="1574" r="6.8"/><circle cx="266.7" cy="1544" r="6.8"/><circle cx="274.7" cy="1560.7" r="6.8"/><circle cx="296.7" cy="1564" r="6.8"/><circle cx="307.3" cy="1552.7" r="6.8"/><circle cx="228" cy="1604.7" r="6.8"/><circle cx="206.7" cy="1636" r="6.8"/><circle cx="232" cy="1628.7" r="6.8"/><circle cx="157.3" cy="1627.3" r="6.8"/><circle cx="164" cy="1627.3" r="6.8"/><circle cx="158.7" cy="1635.3" r="6.8"/><circle cx="166.7" cy="1636.7" r="6.8"/><circle cx="174.7" cy="1639.3" r="6.8"/><circle cx="146.7" cy="1640.7" r="6.8"/><circle cx="190.7" cy="1656" r="6.8"/><circle cx="133.3" cy="1659.3" r="6.8"/><circle cx="140" cy="1655.3" r="6.8"/><circle cx="146.7" cy="1652.7" r="6.8"/><circle cx="120" cy="1662" r="6.8"/><circle cx="349.6" cy="1476.2" r="6.8"/><circle cx="334.7" cy="1495.9" r="6.8"/><circle cx="325.2" cy="1502.2" r="6.8"/><circle cx="348.8" cy="1491.2" r="6.8"/><circle cx="341" cy="1513.3" r="6.8"/><circle cx="370.9" cy="1491.2" r="6.8"/><circle cx="377.2" cy="1484.9" r="6.8"/><circle cx="385.1" cy="1445.5" r="6.8"/><circle cx="381.9" cy="1448.7" r="6.8"/><circle cx="397.7" cy="1432.9" r="6.8"/><circle cx="377.2" cy="1462.9" r="6.8"/><circle cx="385.1" cy="1473.9" r="6.8"/><circle cx="408.7" cy="1466" r="6.8"/><circle cx="416.6" cy="1439.2" r="6.8"/><circle cx="437.1" cy="1439.2" r="6.8"/><circle cx="430.8" cy="1448.7" r="6.8"/><circle cx="429.2" cy="1467.6" r="6.8"/><circle cx="441.8" cy="1470.7" r="6.8"/><circle cx="454.4" cy="1455" r="6.8"/><circle cx="447.3" cy="1418.7" r="6.8"/><circle cx="460.7" cy="1412.4" r="6.8"/><circle cx="465.5" cy="1418.7" r="6.8"/><circle cx="470.2" cy="1404.5" r="6.8"/><circle cx="474.9" cy="1395.1" r="6.8"/><circle cx="488.3" cy="1391.9" r="6.8"/><circle cx="484.4" cy="1404.5" r="6.8"/><circle cx="497" cy="1404.5" r="6.8"/><circle cx="473.3" cy="1439.2" r="6.8"/><circle cx="481.2" cy="1439.2" r="6.8"/><circle cx="482.8" cy="1458.9" r="6.8"/><circle cx="526.1" cy="1399.8" r="6.8"/><circle cx="525.3" cy="1410.9" r="6.8"/></g><g class="o"><circle cx="120" cy="1665.3" r="6.8"/><circle cx="132" cy="1667.3" r="6.8"/><circle cx="138.7" cy="1668.7" r="6.8"/><circle cx="148" cy="1668.7" r="6.8"/><circle cx="145.3" cy="1662" r="6.8"/><circle cx="153.3" cy="1658" r="6.8"/><circle cx="157.3" cy="1666" r="6.8"/><circle cx="162.7" cy="1654" r="6.8"/><circle cx="168" cy="1662" r="6.8"/><circle cx="169.3" cy="1650" r="6.8"/><circle cx="174.7" cy="1658" r="6.8"/><circle cx="177.3" cy="1667.3" r="6.8"/><circle cx="185.3" cy="1668.7" r="6.8"/><circle cx="190.7" cy="1664.7" r="6.8"/><circle cx="176" cy="1647.3" r="6.8"/><circle cx="156" cy="1647.3" r="6.8"/><circle cx="151.3" cy="1639.3" r="6.8"/><circle cx="176" cy="1631.3" r="6.8"/><circle cx="185.3" cy="1617.3" r="6.8"/><circle cx="208" cy="1621.3" r="6.8"/><circle cx="223.3" cy="1623.3" r="6.8"/><circle cx="228" cy="1635.3" r="6.8"/><circle cx="230" cy="1644.7" r="6.8"/><circle cx="206.7" cy="1651.3" r="6.8"/><circle cx="229.3" cy="1592.7" r="6.8"/><circle cx="230" cy="1600.7" r="6.8"/><circle cx="245.3" cy="1586" r="6.8"/><circle cx="253.3" cy="1591.3" r="6.8"/><circle cx="261.3" cy="1603.1" r="6.8"/><circle cx="266.7" cy="1572.7" r="6.8"/><circle cx="275.3" cy="1586.7" r="6.8"/><circle cx="296" cy="1591.3" r="6.8"/><circle cx="306.7" cy="1585.3" r="6.8"/><circle cx="462.3" cy="1347" r="6.8"/><circle cx="469.4" cy="1353.3" r="6.8"/><circle cx="464.7" cy="1361.2" r="6.8"/><circle cx="485.2" cy="1343.9" r="6.8"/><circle cx="487.5" cy="1352.5" r="6.8"/><circle cx="484.4" cy="1362" r="6.8"/><circle cx="445" cy="1365.9" r="6.8"/><circle cx="441.8" cy="1374.6" r="6.8"/><circle cx="473.3" cy="1374.6" r="6.8"/><circle cx="470.2" cy="1379.3" r="6.8"/><circle cx="496.2" cy="1372.2" r="6.8"/><circle cx="526.1" cy="1361.2" r="6.8"/><circle cx="451.3" cy="1388" r="6.8"/><circle cx="525.3" cy="1383.3" r="6.8"/><circle cx="458.4" cy="1402.2" r="6.8"/><circle cx="473.3" cy="1409.3" r="6.8"/><circle cx="481.2" cy="1412.4" r="6.8"/><circle cx="381.9" cy="1404.5" r="6.8"/><circle cx="397.7" cy="1414" r="6.8"/><circle cx="385.9" cy="1426.6" r="6.8"/><circle cx="410.3" cy="1434.5" r="6.8"/><circle cx="430" cy="1438.4" r="6.8"/><circle cx="351.2" cy="1435.3" r="6.8"/><circle cx="492.2" cy="1438.4" r="6.8"/><circle cx="437.1" cy="1460.5" r="6.8"/><circle cx="482.8" cy="1463.6" r="6.8"/><circle cx="494.6" cy="1463.6" r="6.8"/><circle cx="375.6" cy="1466" r="6.8"/><circle cx="416.6" cy="1474.7" r="6.8"/><circle cx="430" cy="1494.4" r="6.8"/><circle cx="326" cy="1495.2" r="6.8"/><circle cx="347.3" cy="1497.5" r="6.8"/><circle cx="342.5" cy="1507" r="6.8"/><circle cx="381.9" cy="1492.8" r="6.8"/><circle cx="378.8" cy="1502.2" r="6.8"/><circle cx="370.1" cy="1516.4" r="6.8"/><circle cx="333.9" cy="1523.5" r="6.8"/><circle cx="350.4" cy="1510.1" r="6.8"/></g><line class="tb" x1="121.8" y1="1669.7" x2="520.6" y2="1383.6"/><line class="to" x1="150.1" y1="1669.7" x2="520.6" y2="1356.2"/>
<text class="eq" x="338.5" y="1619.7" xml:space="preserve">GPP<tspan dy="7" font-size="17.5">vpm</tspan><tspan dy="-7"> = 281.1x - 31.9</tspan></text><text class="eq" x="615.3" y="1619.7" textLength="127.2" lengthAdjust="spacingAndGlyphs">(R<tspan dy="-9" font-size="17.5">2</tspan><tspan dy="9"> = 0.94)</tspan></text><text class="eq" x="339.9" y="1651.7" xml:space="preserve">GPP<tspan dy="7" font-size="17.5">mod17</tspan><tspan dy="-7"> = 238.7x - 4.6</tspan></text><text class="eq" x="615.3" y="1651.7" textLength="127.2" lengthAdjust="spacingAndGlyphs">(R<tspan dy="-9" font-size="17.5">2</tspan><tspan dy="9"> = 0.95)</tspan></text>
</g>
<g id="ph">
<text class="t" text-anchor="end" x="956.4" y="1679.9">0</text>
<text class="t" text-anchor="end" x="956.4" y="1589.4">100</text>
<line class="tk" x1="980" y1="1580.8" x2="990" y2="1580.8"/>
<text class="t" text-anchor="end" x="956.4" y="1499">200</text>
<line class="tk" x1="980" y1="1490.4" x2="990" y2="1490.4"/>
<text class="t" text-anchor="end" x="956.4" y="1408.5">300</text>
<line class="tk" x1="980" y1="1400" x2="990" y2="1400"/>
<text class="t" text-anchor="end" x="956.4" y="1318.1">400</text>
<text class="t" letter-spacing="-0.45" text-anchor="middle" x="980" y="1713.1">0.0</text>
<text class="t" letter-spacing="-0.45" text-anchor="middle" x="1038" y="1713.1">0.2</text>
<line class="tk" x1="1038" y1="1671.3" x2="1038" y2="1661.3"/>
<text class="t" letter-spacing="-0.45" text-anchor="middle" x="1096.1" y="1713.1">0.4</text>
<line class="tk" x1="1096.1" y1="1671.3" x2="1096.1" y2="1661.3"/>
<text class="t" letter-spacing="-0.45" text-anchor="middle" x="1154.1" y="1713.1">0.6</text>
<line class="tk" x1="1154.1" y1="1671.3" x2="1154.1" y2="1661.3"/>
<text class="t" letter-spacing="-0.45" text-anchor="middle" x="1212.2" y="1713.1">0.8</text>
<line class="tk" x1="1212.2" y1="1671.3" x2="1212.2" y2="1661.3"/>
<text class="t" letter-spacing="-0.45" text-anchor="middle" x="1270.2" y="1713.1">1.0</text>
<line class="tk" x1="1270.2" y1="1671.3" x2="1270.2" y2="1661.3"/>
<text class="t" letter-spacing="-0.45" text-anchor="middle" x="1328.3" y="1713.1">1.2</text>
<line class="tk" x1="1328.3" y1="1671.3" x2="1328.3" y2="1661.3"/>
<text class="t" letter-spacing="-0.45" text-anchor="middle" x="1386.3" y="1713.1">1.4</text>
<line class="tk" x1="1386.3" y1="1671.3" x2="1386.3" y2="1661.3"/>
<text class="t" letter-spacing="-0.45" text-anchor="middle" x="1444.4" y="1713.1">1.6</text>
<line class="tk" x1="1444.4" y1="1671.3" x2="1444.4" y2="1661.3"/>
<text class="t" letter-spacing="-0.45" text-anchor="middle" x="1502.4" y="1713.1">1.8</text>
<line class="tk" x1="1502.4" y1="1671.3" x2="1502.4" y2="1661.3"/>
<text class="t" letter-spacing="-0.45" text-anchor="middle" x="1560.5" y="1713.1">2.0</text>
<line class="tk" x1="1560.5" y1="1671.3" x2="1560.5" y2="1661.3"/>
<text class="t" letter-spacing="-0.45" text-anchor="middle" x="1618.5" y="1713.1">2.2</text>
<rect class="ax" x="980" y="1309.5" width="638.5" height="361.8"/>
<text class="at" text-anchor="middle" transform="translate(897.1 1491.2) rotate(-90)">GPP (gC m<tspan dy="-9" font-size="17.5">-2</tspan><tspan dy="9"> month</tspan><tspan dy="-9" font-size="17.5">-1</tspan><tspan dy="9">)</tspan></text>
<text class="lb" x="1002.9" y="1348.9">(<tspan font-weight="bold">h</tspan>)</text>
<g class="b"><circle cx="1024.5" cy="1599.8" r="6.8"/><circle cx="1031.1" cy="1602.7" r="6.8"/><circle cx="1023.1" cy="1617.3" r="6.8"/><circle cx="1024.5" cy="1620.9" r="6.8"/><circle cx="1034" cy="1612.2" r="6.8"/><circle cx="1037.6" cy="1617.3" r="6.8"/><circle cx="1047.1" cy="1599.8" r="6.8"/><circle cx="1049.3" cy="1605.6" r="6.8"/><circle cx="1044.2" cy="1610" r="6.8"/><circle cx="1052.2" cy="1610" r="6.8"/><circle cx="1062.4" cy="1595.5" r="6.8"/><circle cx="1066.7" cy="1596.9" r="6.8"/><circle cx="1075.5" cy="1587.5" r="6.8"/><circle cx="1078.4" cy="1591.8" r="6.8"/><circle cx="1079.8" cy="1597.6" r="6.8"/><circle cx="1085.6" cy="1595.5" r="6.8"/><circle cx="1064.5" cy="1602.7" r="6.8"/><circle cx="1097.3" cy="1572.2" r="6.8"/><circle cx="1095.8" cy="1575.1" r="6.8"/><circle cx="1108.2" cy="1583.1" r="6.8"/><circle cx="1107.5" cy="1588.2" r="6.8"/><circle cx="1119.1" cy="1553.3" r="6.8"/><circle cx="1123.5" cy="1554.7" r="6.8"/><circle cx="1098" cy="1607.1" r="6.8"/><circle cx="1079.8" cy="1622.4" r="6.8"/><circle cx="1123.5" cy="1605.6" r="6.8"/><circle cx="1161.8" cy="1554.8" r="6.8"/><circle cx="1164.3" cy="1560.7" r="6.8"/><circle cx="1177" cy="1559.9" r="6.8"/><circle cx="1180.4" cy="1570.1" r="6.8"/><circle cx="1190.6" cy="1565.8" r="6.8"/><circle cx="1158.4" cy="1574.3" r="6.8"/><circle cx="1150.7" cy="1579.4" r="6.8"/><circle cx="1147.3" cy="1582.8" r="6.8"/><circle cx="1137.2" cy="1582.8" r="6.8"/><circle cx="1131.2" cy="1583.6" r="6.8"/><circle cx="1191.5" cy="1584.5" r="6.8"/><circle cx="1158.4" cy="1596.4" r="6.8"/><circle cx="1179.6" cy="1593.8" r="6.8"/><circle cx="1213.9" cy="1548" r="6.8"/><circle cx="1211.8" cy="1558.2" r="6.8"/></g><g class="o"><circle cx="1060.2" cy="1565.6" r="6.8"/><circle cx="1067.5" cy="1570.7" r="6.8"/><circle cx="1063.8" cy="1586" r="6.8"/><circle cx="1023.8" cy="1610" r="6.8"/><circle cx="1029.6" cy="1610" r="6.8"/><circle cx="1023.1" cy="1628.9" r="6.8"/><circle cx="1023.8" cy="1634.7" r="6.8"/><circle cx="1063.8" cy="1606.4" r="6.8"/><circle cx="1070.4" cy="1608.5" r="6.8"/><circle cx="1076.9" cy="1609.3" r="6.8"/><circle cx="1083.5" cy="1607.1" r="6.8"/><circle cx="1090" cy="1604.2" r="6.8"/><circle cx="1092.9" cy="1599.8" r="6.8"/><circle cx="1047.8" cy="1620.9" r="6.8"/><circle cx="1053.6" cy="1619.5" r="6.8"/><circle cx="1059.5" cy="1620.2" r="6.8"/><circle cx="1065.3" cy="1615.8" r="6.8"/><circle cx="1071.8" cy="1615.8" r="6.8"/><circle cx="1087.1" cy="1614.4" r="6.8"/><circle cx="1090" cy="1620.9" r="6.8"/><circle cx="1041.3" cy="1626" r="6.8"/><circle cx="1037.6" cy="1631.8" r="6.8"/><circle cx="1044.9" cy="1631.8" r="6.8"/><circle cx="1050.7" cy="1627.5" r="6.8"/><circle cx="1057.3" cy="1626.7" r="6.8"/><circle cx="1063.8" cy="1626" r="6.8"/><circle cx="1070.4" cy="1624.5" r="6.8"/><circle cx="1074" cy="1630.4" r="6.8"/><circle cx="1087.1" cy="1626.7" r="6.8"/><circle cx="1093.6" cy="1623.8" r="6.8"/><circle cx="1100.2" cy="1621.6" r="6.8"/><circle cx="1104.5" cy="1617.3" r="6.8"/><circle cx="1042.7" cy="1639.1" r="6.8"/><circle cx="1055.1" cy="1637.6" r="6.8"/><circle cx="1060.9" cy="1635.5" r="6.8"/><circle cx="1067.5" cy="1636.2" r="6.8"/><circle cx="1074" cy="1637.6" r="6.8"/><circle cx="1080.5" cy="1636.9" r="6.8"/><circle cx="1087.1" cy="1635.5" r="6.8"/><circle cx="1093.6" cy="1634.7" r="6.8"/><circle cx="1100.9" cy="1634.7" r="6.8"/><circle cx="1107.5" cy="1634.7" r="6.8"/><circle cx="1114" cy="1634" r="6.8"/><circle cx="1119.8" cy="1632.5" r="6.8"/><circle cx="1056.5" cy="1644.2" r="6.8"/><circle cx="1062.4" cy="1642" r="6.8"/><circle cx="1068.2" cy="1642" r="6.8"/><circle cx="1098" cy="1585.3" r="6.8"/><circle cx="1097.3" cy="1590.4" r="6.8"/><circle cx="1103.1" cy="1595.5" r="6.8"/><circle cx="1104.5" cy="1573.6" r="6.8"/><circle cx="1110.4" cy="1570.7" r="6.8"/><circle cx="1116.2" cy="1564.9" r="6.8"/><circle cx="1122" cy="1564.2" r="6.8"/><circle cx="1127.8" cy="1562.7" r="6.8"/><circle cx="1111.8" cy="1577.3" r="6.8"/><circle cx="1117.6" cy="1575.1" r="6.8"/><circle cx="1123.5" cy="1573.6" r="6.8"/><circle cx="1127.8" cy="1579.5" r="6.8"/><circle cx="1115.5" cy="1594" r="6.8"/><circle cx="1122" cy="1594" r="6.8"/><circle cx="1127.8" cy="1592.5" r="6.8"/><circle cx="1108.2" cy="1599.8" r="6.8"/><circle cx="1114.7" cy="1602.7" r="6.8"/><circle cx="1104.5" cy="1607.1" r="6.8"/><circle cx="1111.8" cy="1609.3" r="6.8"/><circle cx="1117.6" cy="1612.2" r="6.8"/><circle cx="1123.5" cy="1617.3" r="6.8"/><circle cx="1127.8" cy="1618.7" r="6.8"/><circle cx="1097.3" cy="1613.6" r="6.8"/><circle cx="1126.4" cy="1602.7" r="6.8"/><circle cx="1143.9" cy="1560.7" r="6.8"/><circle cx="1149.9" cy="1565.8" r="6.8"/><circle cx="1157.5" cy="1564.1" r="6.8"/><circle cx="1164.3" cy="1564.1" r="6.8"/><circle cx="1184.7" cy="1559" r="6.8"/><circle cx="1191.5" cy="1558.2" r="6.8"/><circle cx="1179.6" cy="1564.1" r="6.8"/><circle cx="1186.4" cy="1570.9" r="6.8"/><circle cx="1183" cy="1581.9" r="6.8"/><circle cx="1161.8" cy="1582.8" r="6.8"/><circle cx="1157.5" cy="1584.5" r="6.8"/><circle cx="1143.9" cy="1589.6" r="6.8"/><circle cx="1145.6" cy="1596.4" r="6.8"/><circle cx="1135.5" cy="1604.8" r="6.8"/><circle cx="1133.8" cy="1599.8" r="6.8"/><circle cx="1157.9" cy="1609.1" r="6.8"/><circle cx="1157.5" cy="1613.3" r="6.8"/><circle cx="1180" cy="1598.9" r="6.8"/><circle cx="1190.6" cy="1608.7" r="6.8"/><circle cx="1214.4" cy="1554.8" r="6.8"/><circle cx="1135.5" cy="1570.9" r="6.8"/><circle cx="1138" cy="1577.7" r="6.8"/><circle cx="1131.2" cy="1593" r="6.8"/></g><line class="tb" x1="1023.8" y1="1614.9" x2="1215" y2="1557.8"/><line class="to" x1="1023.8" y1="1636.1" x2="1215" y2="1560.7"/>
<text class="ti" x="1223.2" y="1350.4" textLength="75.8" lengthAdjust="spacingAndGlyphs">Cairo</text>
<text class="eq" x="1162.1" y="1471.7" xml:space="preserve">GPP<tspan dy="7" font-size="17.5">vpm</tspan><tspan dy="-7"> = 126.5x + 19.8</tspan></text><text class="eq" x="1445.3" y="1471.7" textLength="125.8" lengthAdjust="spacingAndGlyphs">(R<tspan dy="-9" font-size="17.5">2</tspan><tspan dy="9"> = 0.41)</tspan></text><text class="eq" x="1162.1" y="1504.5" xml:space="preserve">GPP<tspan dy="7" font-size="17.5">mod17</tspan><tspan dy="-7"> = 95.8x + 47.9</tspan></text><text class="eq" x="1443.9" y="1504.5" textLength="125.9" lengthAdjust="spacingAndGlyphs">(R<tspan dy="-9" font-size="17.5">2</tspan><tspan dy="9"> = 0.43)</tspan></text>
</g>
<g id="pi">
<text class="t" text-anchor="end" x="87.6" y="2113">0</text>
<text class="t" text-anchor="end" x="87.6" y="2022.5">100</text>
<line class="tk" x1="111.5" y1="2013.9" x2="121.5" y2="2013.9"/>
<text class="t" text-anchor="end" x="87.6" y="1932">200</text>
<line class="tk" x1="111.5" y1="1923.4" x2="121.5" y2="1923.4"/>
<text class="t" text-anchor="end" x="87.6" y="1841.5">300</text>
<line class="tk" x1="111.5" y1="1832.9" x2="121.5" y2="1832.9"/>
<text class="t" text-anchor="end" x="87.6" y="1751">400</text>
<text class="t" letter-spacing="-0.45" text-anchor="middle" x="111.5" y="2146.2">0.0</text>
<text class="t" letter-spacing="-0.45" text-anchor="middle" x="171.7" y="2146.2">0.2</text>
<line class="tk" x1="171.7" y1="2104.4" x2="171.7" y2="2094.4"/>
<text class="t" letter-spacing="-0.45" text-anchor="middle" x="232" y="2146.2">0.4</text>
<line class="tk" x1="232" y1="2104.4" x2="232" y2="2094.4"/>
<text class="t" letter-spacing="-0.45" text-anchor="middle" x="292.2" y="2146.2">0.6</text>
<line class="tk" x1="292.2" y1="2104.4" x2="292.2" y2="2094.4"/>
<text class="t" letter-spacing="-0.45" text-anchor="middle" x="352.4" y="2146.2">0.8</text>
<line class="tk" x1="352.4" y1="2104.4" x2="352.4" y2="2094.4"/>
<text class="t" letter-spacing="-0.45" text-anchor="middle" x="412.6" y="2146.2">1.0</text>
<line class="tk" x1="412.6" y1="2104.4" x2="412.6" y2="2094.4"/>
<text class="t" letter-spacing="-0.45" text-anchor="middle" x="472.9" y="2146.2">1.2</text>
<line class="tk" x1="472.9" y1="2104.4" x2="472.9" y2="2094.4"/>
<text class="t" letter-spacing="-0.45" text-anchor="middle" x="533.1" y="2146.2">1.4</text>
<line class="tk" x1="533.1" y1="2104.4" x2="533.1" y2="2094.4"/>
<text class="t" letter-spacing="-0.45" text-anchor="middle" x="593.3" y="2146.2">1.6</text>
<line class="tk" x1="593.3" y1="2104.4" x2="593.3" y2="2094.4"/>
<text class="t" letter-spacing="-0.45" text-anchor="middle" x="653.5" y="2146.2">1.8</text>
<line class="tk" x1="653.5" y1="2104.4" x2="653.5" y2="2094.4"/>
<text class="t" letter-spacing="-0.45" text-anchor="middle" x="713.8" y="2146.2">2.0</text>
<line class="tk" x1="713.8" y1="2104.4" x2="713.8" y2="2094.4"/>
<text class="t" letter-spacing="-0.45" text-anchor="middle" x="774" y="2146.2">2.2</text>
<rect class="ax" x="111.5" y="1742.4" width="662.5" height="362"/>
<text class="at" text-anchor="middle" transform="translate(26.8 1924.2) rotate(-90)">GPP (gC m<tspan dy="-9" font-size="17.5">-2</tspan><tspan dy="9"> month</tspan><tspan dy="-9" font-size="17.5">-1</tspan><tspan dy="9">)</tspan></text>
<text class="lb" x="139.3" y="1780.4">(<tspan font-weight="bold">i</tspan>)</text>
<g class="b"><circle cx="177.3" cy="2092" r="6.8"/><circle cx="181.3" cy="2085.3" r="6.8"/><circle cx="189.3" cy="2090.7" r="6.8"/><circle cx="193.3" cy="2093.3" r="6.8"/><circle cx="197.3" cy="2081.3" r="6.8"/><circle cx="201.3" cy="2084" r="6.8"/><circle cx="208" cy="2101.3" r="6.8"/><circle cx="216" cy="2101.3" r="6.8"/><circle cx="222.7" cy="2100" r="6.8"/><circle cx="228" cy="2092" r="6.8"/><circle cx="230.7" cy="2088" r="6.8"/><circle cx="242.7" cy="2088" r="6.8"/><circle cx="252" cy="2082.7" r="6.8"/><circle cx="260" cy="2077.3" r="6.8"/><circle cx="240" cy="2070.7" r="6.8"/><circle cx="245.3" cy="2069.3" r="6.8"/><circle cx="261.3" cy="2096" r="6.8"/><circle cx="264" cy="2101.3" r="6.8"/><circle cx="270.7" cy="2088" r="6.8"/><circle cx="274.7" cy="2098.7" r="6.8"/><circle cx="277.3" cy="2101.3" r="6.8"/><circle cx="291.3" cy="2085.3" r="6.8"/><circle cx="246.7" cy="2039.3" r="6.8"/><circle cx="274.7" cy="2042.7" r="6.8"/><circle cx="282.7" cy="2042.7" r="6.8"/><circle cx="278.7" cy="2052" r="6.8"/><circle cx="292.7" cy="2032.7" r="6.8"/><circle cx="304" cy="2057.3" r="6.8"/><circle cx="310.7" cy="2056" r="6.8"/><circle cx="317.3" cy="2045.3" r="6.8"/><circle cx="326.7" cy="2046.7" r="6.8"/><circle cx="333.3" cy="2045.3" r="6.8"/><circle cx="332" cy="2030" r="6.8"/><circle cx="322.7" cy="2052" r="6.8"/><circle cx="364" cy="2022" r="6.8"/><circle cx="356" cy="2053.3" r="6.8"/><circle cx="352" cy="2062.7" r="6.8"/><circle cx="349.3" cy="2068" r="6.8"/><circle cx="374.7" cy="2057.3" r="6.8"/><circle cx="378.7" cy="2053.3" r="6.8"/><circle cx="266.7" cy="2065.3" r="6.8"/><circle cx="256" cy="2066.7" r="6.8"/><circle cx="445.3" cy="1993.2" r="6.8"/><circle cx="425.8" cy="2004.3" r="6.8"/><circle cx="420.2" cy="2011.3" r="6.8"/><circle cx="400.7" cy="2009.9" r="6.8"/><circle cx="395.1" cy="2015.5" r="6.8"/><circle cx="416" cy="2019.6" r="6.8"/><circle cx="388.1" cy="2023.8" r="6.8"/><circle cx="383.9" cy="2029.4" r="6.8"/><circle cx="399.3" cy="2025.2" r="6.8"/><circle cx="400.7" cy="2035" r="6.8"/><circle cx="383.9" cy="2039.1" r="6.8"/><circle cx="409" cy="2035" r="6.8"/><circle cx="406.2" cy="2044.7" r="6.8"/><circle cx="434.1" cy="2019.6" r="6.8"/><circle cx="439.7" cy="2022.4" r="6.8"/><circle cx="435.5" cy="2030.8" r="6.8"/><circle cx="428.5" cy="2029.4" r="6.8"/><circle cx="457.8" cy="2022.4" r="6.8"/><circle cx="464.8" cy="2023.8" r="6.8"/><circle cx="469" cy="2011.3" r="6.8"/><circle cx="477.3" cy="2016.8" r="6.8"/><circle cx="475.9" cy="2023.8" r="6.8"/><circle cx="455" cy="2040.5" r="6.8"/><circle cx="467.6" cy="2040.5" r="6.8"/><circle cx="478.7" cy="2043.3" r="6.8"/><circle cx="427.8" cy="2053.8" r="6.8"/><circle cx="382.5" cy="2053.1" r="6.8"/><circle cx="374.2" cy="2058.7" r="6.8"/><circle cx="515" cy="1998.7" r="6.8"/><circle cx="509.4" cy="2002.9" r="6.8"/><circle cx="527.5" cy="2001.5" r="6.8"/><circle cx="523.3" cy="2008.5" r="6.8"/><circle cx="506.6" cy="2015.5" r="6.8"/><circle cx="512.2" cy="2012.7" r="6.8"/><circle cx="536.6" cy="2023.1" r="6.8"/><circle cx="581.9" cy="2004.3" r="6.8"/><circle cx="576.3" cy="1997.3" r="6.8"/><circle cx="581.2" cy="2025.2" r="6.8"/></g><g class="o"><circle cx="228.7" cy="1986" r="6.8"/><circle cx="277.3" cy="1982" r="6.8"/><circle cx="274.7" cy="1988" r="6.8"/><circle cx="292.7" cy="1978.7" r="6.8"/><circle cx="249.3" cy="1999.3" r="6.8"/><circle cx="246.7" cy="2008" r="6.8"/><circle cx="270" cy="2011.3" r="6.8"/><circle cx="288" cy="2020.7" r="6.8"/><circle cx="260" cy="2032.7" r="6.8"/><circle cx="270.7" cy="2030.7" r="6.8"/><circle cx="280" cy="2029.3" r="6.8"/><circle cx="225.3" cy="2038.7" r="6.8"/><circle cx="214.7" cy="2043.3" r="6.8"/><circle cx="221.3" cy="2053.3" r="6.8"/><circle cx="229.3" cy="2053.3" r="6.8"/><circle cx="237.3" cy="2052" r="6.8"/><circle cx="253.3" cy="2050.7" r="6.8"/><circle cx="261.3" cy="2050.7" r="6.8"/><circle cx="245.3" cy="2058.7" r="6.8"/><circle cx="234.7" cy="2061.3" r="6.8"/><circle cx="224" cy="2064" r="6.8"/><circle cx="177.3" cy="2062.7" r="6.8"/><circle cx="173.3" cy="2070.7" r="6.8"/><circle cx="169.3" cy="2073.3" r="6.8"/><circle cx="190.7" cy="2061.3" r="6.8"/><circle cx="198.7" cy="2057.3" r="6.8"/><circle cx="189.3" cy="2069.3" r="6.8"/><circle cx="204" cy="2066.7" r="6.8"/><circle cx="210.7" cy="2070.7" r="6.8"/><circle cx="213.3" cy="2064" r="6.8"/><circle cx="218.7" cy="2073.3" r="6.8"/><circle cx="224" cy="2077.3" r="6.8"/><circle cx="212" cy="2078.7" r="6.8"/><circle cx="240.7" cy="2078.7" r="6.8"/><circle cx="261.3" cy="2066.7" r="6.8"/><circle cx="276" cy="2074.7" r="6.8"/><circle cx="291.3" cy="2048" r="6.8"/><circle cx="305.3" cy="2048" r="6.8"/><circle cx="313.3" cy="2032" r="6.8"/><circle cx="320" cy="2036" r="6.8"/><circle cx="325.3" cy="2009.3" r="6.8"/><circle cx="332" cy="2014.7" r="6.8"/><circle cx="334.7" cy="2018.7" r="6.8"/><circle cx="353.3" cy="1986.7" r="6.8"/><circle cx="358.7" cy="1989.3" r="6.8"/><circle cx="364" cy="1976" r="6.8"/><circle cx="354.7" cy="2012" r="6.8"/><circle cx="349.3" cy="2013.3" r="6.8"/><circle cx="374.7" cy="2010.7" r="6.8"/><circle cx="332" cy="1962.7" r="6.8"/><circle cx="378.7" cy="1965.3" r="6.8"/><circle cx="425.8" cy="1908.1" r="6.8"/><circle cx="439.7" cy="1910.9" r="6.8"/><circle cx="436.9" cy="1917.9" r="6.8"/><circle cx="398.6" cy="1917.9" r="6.8"/><circle cx="401.4" cy="1924.8" r="6.8"/><circle cx="478.7" cy="1910.2" r="6.8"/><circle cx="515" cy="1894.2" r="6.8"/><circle cx="383.2" cy="1934.6" r="6.8"/><circle cx="445.3" cy="1932.5" r="6.8"/><circle cx="416" cy="1936" r="6.8"/><circle cx="421.6" cy="1941.6" r="6.8"/><circle cx="431.3" cy="1941.6" r="6.8"/><circle cx="420.2" cy="1949.9" r="6.8"/><circle cx="423" cy="1956.9" r="6.8"/><circle cx="427.2" cy="1962.5" r="6.8"/><circle cx="395.8" cy="1952.7" r="6.8"/><circle cx="402.1" cy="1961.1" r="6.8"/><circle cx="383.9" cy="1966.7" r="6.8"/><circle cx="392.3" cy="1968.1" r="6.8"/><circle cx="404.8" cy="1970.8" r="6.8"/><circle cx="457.8" cy="1944.4" r="6.8"/><circle cx="467.6" cy="1944.4" r="6.8"/><circle cx="475.9" cy="1952.7" r="6.8"/><circle cx="456.4" cy="1955.5" r="6.8"/><circle cx="462" cy="1963.9" r="6.8"/><circle cx="477.3" cy="1966" r="6.8"/><circle cx="508" cy="1938.8" r="6.8"/><circle cx="509.4" cy="1944.4" r="6.8"/><circle cx="527.5" cy="1915.8" r="6.8"/><circle cx="536.6" cy="1924.8" r="6.8"/><circle cx="581.9" cy="1925.5" r="6.8"/><circle cx="581.2" cy="1934.6" r="6.8"/><circle cx="454.3" cy="1984.8" r="6.8"/><circle cx="409" cy="1994.5" r="6.8"/><circle cx="383.2" cy="2005.7" r="6.8"/><circle cx="374.2" cy="2011.3" r="6.8"/></g><line class="tb" x1="169.3" y1="2086.6" x2="581.3" y2="1996"/><line class="to" x1="169.3" y1="2077.5" x2="581.3" y2="1890.7"/>
<text class="ti" x="361" y="1784.8" textLength="75" lengthAdjust="spacingAndGlyphs">Delhi</text>
<text class="eq" x="140.9" y="1841.9" xml:space="preserve">GPP<tspan dy="7" font-size="17.5">vpm</tspan><tspan dy="-7"> = 150.9x + 0.7</tspan></text><text class="eq" x="409.9" y="1841.9" textLength="125.9" lengthAdjust="spacingAndGlyphs">(R<tspan dy="-9" font-size="17.5">2</tspan><tspan dy="9"> = 0.80)</tspan></text><text class="eq" x="141.5" y="1874.4" xml:space="preserve">GPP<tspan dy="7" font-size="17.5">mod17</tspan><tspan dy="-7"> = 73.2x + 5.6</tspan></text><text class="eq" x="408.6" y="1874.4" textLength="125.8" lengthAdjust="spacingAndGlyphs">(R<tspan dy="-9" font-size="17.5">2</tspan><tspan dy="9"> = 0.68)</tspan></text>
</g>
<g id="pj">
<text class="t" text-anchor="end" x="956.4" y="2111.8">0</text>
<text class="t" text-anchor="end" x="956.4" y="2021.4">100</text>
<line class="tk" x1="980" y1="2012.8" x2="990" y2="2012.8"/>
<text class="t" text-anchor="end" x="956.4" y="1931">200</text>
<line class="tk" x1="980" y1="1922.4" x2="990" y2="1922.4"/>
<text class="t" text-anchor="end" x="956.4" y="1840.6">300</text>
<line class="tk" x1="980" y1="1832" x2="990" y2="1832"/>
<text class="t" text-anchor="end" x="956.4" y="1750.2">400</text>
<text class="t" letter-spacing="-0.45" text-anchor="middle" x="980" y="2145">0.0</text>
<text class="t" letter-spacing="-0.45" text-anchor="middle" x="1038" y="2145">0.2</text>
<line class="tk" x1="1038" y1="2103.2" x2="1038" y2="2093.2"/>
<text class="t" letter-spacing="-0.45" text-anchor="middle" x="1096.1" y="2145">0.4</text>
<line class="tk" x1="1096.1" y1="2103.2" x2="1096.1" y2="2093.2"/>
<text class="t" letter-spacing="-0.45" text-anchor="middle" x="1154.1" y="2145">0.6</text>
<line class="tk" x1="1154.1" y1="2103.2" x2="1154.1" y2="2093.2"/>
<text class="t" letter-spacing="-0.45" text-anchor="middle" x="1212.1" y="2145">0.8</text>
<line class="tk" x1="1212.1" y1="2103.2" x2="1212.1" y2="2093.2"/>
<text class="t" letter-spacing="-0.45" text-anchor="middle" x="1270.2" y="2145">1.0</text>
<line class="tk" x1="1270.2" y1="2103.2" x2="1270.2" y2="2093.2"/>
<text class="t" letter-spacing="-0.45" text-anchor="middle" x="1328.2" y="2145">1.2</text>
<line class="tk" x1="1328.2" y1="2103.2" x2="1328.2" y2="2093.2"/>
<text class="t" letter-spacing="-0.45" text-anchor="middle" x="1386.3" y="2145">1.4</text>
<line class="tk" x1="1386.3" y1="2103.2" x2="1386.3" y2="2093.2"/>
<text class="t" letter-spacing="-0.45" text-anchor="middle" x="1444.3" y="2145">1.6</text>
<line class="tk" x1="1444.3" y1="2103.2" x2="1444.3" y2="2093.2"/>
<text class="t" letter-spacing="-0.45" text-anchor="middle" x="1502.3" y="2145">1.8</text>
<line class="tk" x1="1502.3" y1="2103.2" x2="1502.3" y2="2093.2"/>
<text class="t" letter-spacing="-0.45" text-anchor="middle" x="1560.4" y="2145">2.0</text>
<line class="tk" x1="1560.4" y1="2103.2" x2="1560.4" y2="2093.2"/>
<text class="t" letter-spacing="-0.45" text-anchor="middle" x="1618.4" y="2145">2.2</text>
<rect class="ax" x="980" y="1741.6" width="638.4" height="361.6"/>
<text class="at" text-anchor="middle" transform="translate(897.1 1923.2) rotate(-90)">GPP (gC m<tspan dy="-9" font-size="17.5">-2</tspan><tspan dy="9"> month</tspan><tspan dy="-9" font-size="17.5">-1</tspan><tspan dy="9">)</tspan></text>
<text class="lb" x="1004.1" y="1780.7">(<tspan>j</tspan>)</text>
<g class="b"><circle cx="978.6" cy="2001.8" r="6.8"/><circle cx="978.6" cy="2015.5" r="6.8"/><circle cx="1012.3" cy="2010.9" r="6.8"/><circle cx="1015.9" cy="2005.5" r="6.8"/><circle cx="976.8" cy="2066.4" r="6.8"/><circle cx="1073.2" cy="2038.2" r="6.8"/><circle cx="1065" cy="2041.8" r="6.8"/><circle cx="1085.9" cy="2031.8" r="6.8"/><circle cx="1092.3" cy="2032.7" r="6.8"/><circle cx="1104.1" cy="2029.1" r="6.8"/><circle cx="1105" cy="2038.2" r="6.8"/><circle cx="1110.5" cy="2040" r="6.8"/><circle cx="1110.5" cy="2012.7" r="6.8"/><circle cx="1114.1" cy="2016.4" r="6.8"/><circle cx="1108.6" cy="1985.5" r="6.8"/><circle cx="1104.5" cy="2055" r="6.8"/><circle cx="1114.1" cy="2025.5" r="6.8"/><circle cx="982.3" cy="2091.8" r="6.8"/><circle cx="987.7" cy="2080" r="6.8"/><circle cx="993.2" cy="2084.5" r="6.8"/><circle cx="999.5" cy="2081.8" r="6.8"/><circle cx="1005.9" cy="2080.9" r="6.8"/><circle cx="1011.4" cy="2087.3" r="6.8"/><circle cx="1014.1" cy="2078.2" r="6.8"/><circle cx="1019.5" cy="2080.9" r="6.8"/><circle cx="1023.2" cy="2089.1" r="6.8"/><circle cx="1025" cy="2084.5" r="6.8"/><circle cx="1017.7" cy="2073.6" r="6.8"/><circle cx="1039.5" cy="2081.8" r="6.8"/><circle cx="1045" cy="2087.3" r="6.8"/><circle cx="1050.5" cy="2091.8" r="6.8"/><circle cx="1052.3" cy="2082.7" r="6.8"/><circle cx="1055.9" cy="2076.4" r="6.8"/><circle cx="1056.8" cy="2070" r="6.8"/><circle cx="1055" cy="2085.5" r="6.8"/><circle cx="1007.7" cy="2040" r="6.8"/><circle cx="1035.9" cy="2037.3" r="6.8"/><circle cx="1130" cy="1978.8" r="6.8"/><circle cx="1119.1" cy="1990.9" r="6.8"/><circle cx="1138.5" cy="1992.1" r="6.8"/><circle cx="1160.3" cy="1986.1" r="6.8"/><circle cx="1167.6" cy="1995.8" r="6.8"/><circle cx="1130.6" cy="2016.4" r="6.8"/><circle cx="1134.8" cy="2018.8" r="6.8"/><circle cx="1121.5" cy="2022.4" r="6.8"/><circle cx="1130" cy="2028.5" r="6.8"/><circle cx="1115.5" cy="2026.1" r="6.8"/><circle cx="1153.6" cy="2009.1" r="6.8"/><circle cx="1177.3" cy="2006.7" r="6.8"/><circle cx="1182.1" cy="2012.7" r="6.8"/><circle cx="1176.1" cy="2021.2" r="6.8"/><circle cx="1197.9" cy="1997" r="6.8"/><circle cx="1200.3" cy="2023.6" r="6.8"/><circle cx="1272.4" cy="1981.2" r="6.8"/></g><g class="o"><circle cx="978.6" cy="1989.1" r="6.8"/><circle cx="1020" cy="1978.2" r="6.8"/><circle cx="1088.2" cy="1977.7" r="6.8"/><circle cx="1011.8" cy="1995.5" r="6.8"/><circle cx="1023.2" cy="2000.9" r="6.8"/><circle cx="1025" cy="2007.3" r="6.8"/><circle cx="1024.1" cy="2015.5" r="6.8"/><circle cx="1021.4" cy="2022.7" r="6.8"/><circle cx="1018.6" cy="2028.2" r="6.8"/><circle cx="1019.5" cy="2034.5" r="6.8"/><circle cx="1040" cy="2018.2" r="6.8"/><circle cx="1039.5" cy="2025.5" r="6.8"/><circle cx="1040.5" cy="2031.8" r="6.8"/><circle cx="1077.7" cy="2018.6" r="6.8"/><circle cx="1101.4" cy="2018.2" r="6.8"/><circle cx="1105.9" cy="1990.9" r="6.8"/><circle cx="1111.4" cy="2001.8" r="6.8"/><circle cx="1111.4" cy="2031.8" r="6.8"/><circle cx="1108.6" cy="1961.8" r="6.8"/><circle cx="1104.5" cy="2064.1" r="6.8"/><circle cx="978.6" cy="2027.3" r="6.8"/><circle cx="978.6" cy="2037.3" r="6.8"/><circle cx="980.5" cy="2043.6" r="6.8"/><circle cx="1050.5" cy="2033.6" r="6.8"/><circle cx="1057.7" cy="2032.7" r="6.8"/><circle cx="1062.3" cy="2030.9" r="6.8"/><circle cx="1056.8" cy="2037.3" r="6.8"/><circle cx="999.5" cy="2043.6" r="6.8"/><circle cx="1006.8" cy="2041.8" r="6.8"/><circle cx="1014.1" cy="2040" r="6.8"/><circle cx="1021.4" cy="2040.9" r="6.8"/><circle cx="1028.6" cy="2039.1" r="6.8"/><circle cx="1035.9" cy="2041.8" r="6.8"/><circle cx="1043.2" cy="2040" r="6.8"/><circle cx="1050.5" cy="2041.8" r="6.8"/><circle cx="1057.7" cy="2043.6" r="6.8"/><circle cx="986.8" cy="2049.1" r="6.8"/><circle cx="994.1" cy="2048.2" r="6.8"/><circle cx="1001.4" cy="2050" r="6.8"/><circle cx="1008.6" cy="2049.1" r="6.8"/><circle cx="1015.9" cy="2050" r="6.8"/><circle cx="1023.2" cy="2049.1" r="6.8"/><circle cx="1030.5" cy="2047.3" r="6.8"/><circle cx="1037.7" cy="2050" r="6.8"/><circle cx="1045" cy="2050.9" r="6.8"/><circle cx="1052.3" cy="2050.9" r="6.8"/><circle cx="1059.5" cy="2049.1" r="6.8"/><circle cx="1065.9" cy="2052.7" r="6.8"/><circle cx="979.5" cy="2056.4" r="6.8"/><circle cx="986.8" cy="2057.3" r="6.8"/><circle cx="994.1" cy="2056.4" r="6.8"/><circle cx="1001.4" cy="2058.2" r="6.8"/><circle cx="1008.6" cy="2057.3" r="6.8"/><circle cx="1015.9" cy="2058.2" r="6.8"/><circle cx="1023.2" cy="2057.3" r="6.8"/><circle cx="1030.5" cy="2058.2" r="6.8"/><circle cx="1037.7" cy="2057.3" r="6.8"/><circle cx="1045" cy="2058.2" r="6.8"/><circle cx="1052.3" cy="2058.2" r="6.8"/><circle cx="1059.5" cy="2056.4" r="6.8"/><circle cx="1065.9" cy="2056.4" r="6.8"/><circle cx="985.9" cy="2064.5" r="6.8"/><circle cx="993.2" cy="2065.5" r="6.8"/><circle cx="1000.5" cy="2066.4" r="6.8"/><circle cx="1007.7" cy="2065.5" r="6.8"/><circle cx="1015" cy="2066.4" r="6.8"/><circle cx="1022.3" cy="2065.5" r="6.8"/><circle cx="1029.5" cy="2066.4" r="6.8"/><circle cx="1036.8" cy="2064.5" r="6.8"/><circle cx="1044.1" cy="2064.5" r="6.8"/><circle cx="1051.4" cy="2062.7" r="6.8"/><circle cx="1001.4" cy="2070.9" r="6.8"/><circle cx="1008.6" cy="2069.1" r="6.8"/><circle cx="1015.9" cy="2070" r="6.8"/><circle cx="1023.2" cy="2068.2" r="6.8"/><circle cx="1030.5" cy="2068.2" r="6.8"/><circle cx="1103.3" cy="1937" r="6.8"/><circle cx="1137.9" cy="1939.4" r="6.8"/><circle cx="1122.1" cy="1944.8" r="6.8"/><circle cx="1115.5" cy="1952.1" r="6.8"/><circle cx="1108.2" cy="1959.4" r="6.8"/><circle cx="1130" cy="1957" r="6.8"/><circle cx="1119.7" cy="1972.1" r="6.8"/><circle cx="1130" cy="1981.2" r="6.8"/><circle cx="1154.2" cy="1970.3" r="6.8"/><circle cx="1162.7" cy="1971.5" r="6.8"/><circle cx="1168.8" cy="1973.9" r="6.8"/><circle cx="1174.8" cy="1967.9" r="6.8"/><circle cx="1182.1" cy="1964.2" r="6.8"/><circle cx="1185.8" cy="1963" r="6.8"/><circle cx="1197.9" cy="1990.9" r="6.8"/><circle cx="1200.3" cy="2031.5" r="6.8"/><circle cx="1130" cy="2006.7" r="6.8"/><circle cx="1272.4" cy="1946.7" r="6.8"/></g><line class="tb" x1="980" y1="2069.8" x2="1270.2" y2="1977.9"/><line class="to" x1="980" y1="2062.9" x2="1270.2" y2="1935.5"/>
<text class="ti" x="1206.5" y="1783.5" textLength="114.9" lengthAdjust="spacingAndGlyphs">Mumbai</text>
<text class="eq" x="1143.7" y="1858.6" xml:space="preserve">GPP<tspan dy="7" font-size="17.5">vpm</tspan><tspan dy="-7"> = 140.9x + 44.6</tspan></text><text class="eq" x="1441.4" y="1858.6" textLength="126.7" lengthAdjust="spacingAndGlyphs">(R<tspan dy="-9" font-size="17.5">2</tspan><tspan dy="9"> = 0.49)</tspan></text><text class="eq" x="1145.4" y="1891.1" xml:space="preserve">GPP<tspan dy="7" font-size="17.5">mod17</tspan><tspan dy="-7"> = 101.6x + 37.0</tspan></text><text class="eq" x="1440.3" y="1891.1" textLength="126.4" lengthAdjust="spacingAndGlyphs">(R<tspan dy="-9" font-size="17.5">2</tspan><tspan dy="9"> = 0.41)</tspan></text>
</g>
<text class="at" text-anchor="middle" x="442.3" y="2188.3">SIF (mW m<tspan dy="-9" font-size="17.5">-2</tspan><tspan dy="9"> nm</tspan><tspan dy="-9" font-size="17.5">-1</tspan><tspan dy="9"> sr</tspan><tspan dy="-9" font-size="17.5">-1</tspan><tspan dy="9">)</tspan></text>
<text class="at" text-anchor="middle" x="1298.6" y="2187.3">SIF (mW m<tspan dy="-9" font-size="17.5">-2</tspan><tspan dy="9"> nm</tspan><tspan dy="-9" font-size="17.5">-1</tspan><tspan dy="9"> sr</tspan><tspan dy="-9" font-size="17.5">-1</tspan><tspan dy="9">)</tspan></text>
</svg></body></html>
